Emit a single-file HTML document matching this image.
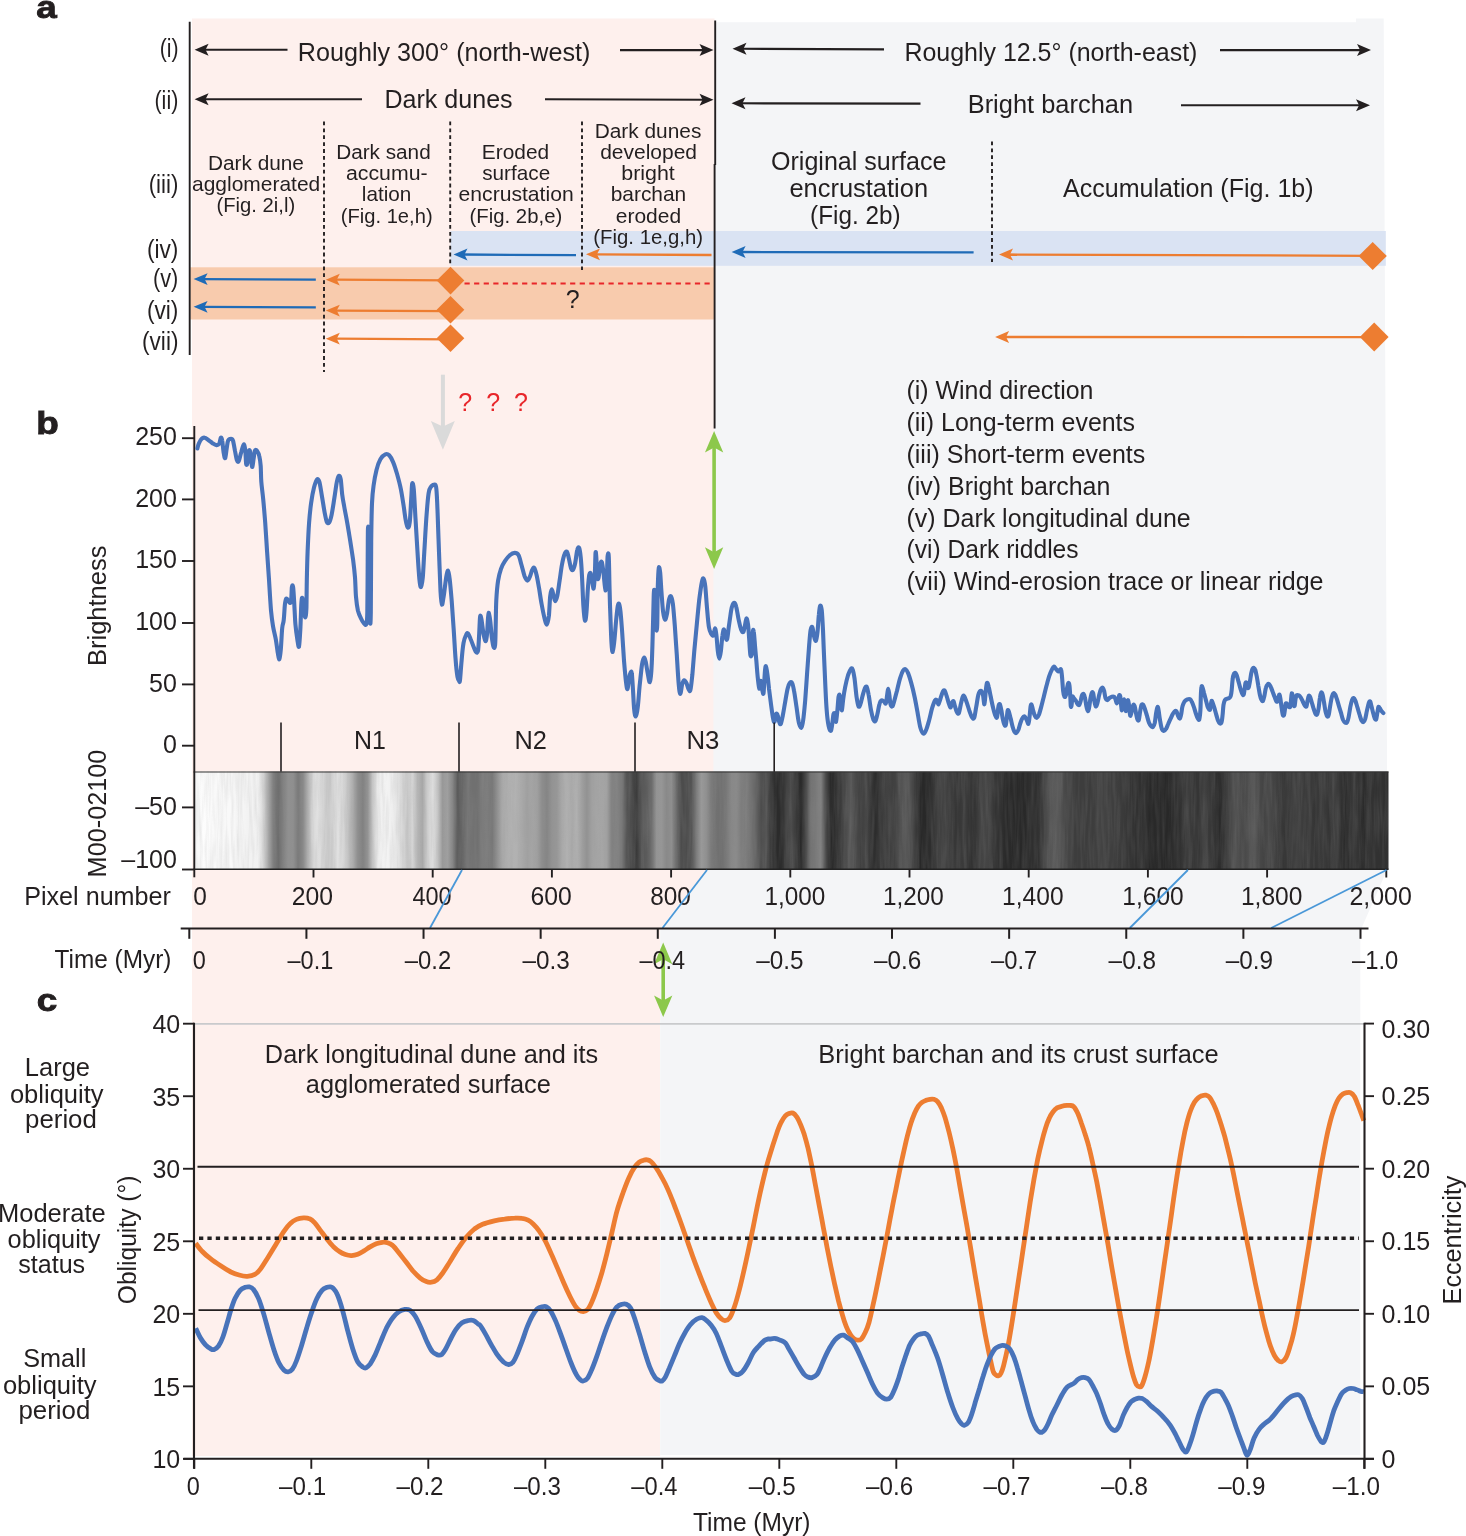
<!DOCTYPE html>
<html><head><meta charset="utf-8"><title>Figure</title>
<style>
html,body{margin:0;padding:0;background:#fff;}
body{width:1466px;height:1536px;overflow:hidden;}
svg{display:block;will-change:transform;}
svg text{font-family:"Liberation Sans",sans-serif;}
</style></head><body>
<svg width="1466" height="1536" viewBox="0 0 1466 1536">
<rect x="0" y="0" width="1466" height="1536" fill="#fff"/>
<path d="M192,18.4 H714.5 V868 L706.5,870 L660.2,928.5 V1456 H192 Z" fill="#fef0ed"/>
<path d="M714.5,22.3 H1356 V18.4 H1383.7 L1387,760 V870 L1362.5,926 L1360.3,932 V1455 H660.2 V928.5 L706.5,870 L713.4,868 V430 H714.5 Z" fill="#f4f5f7"/>
<rect x="450.5" y="231" width="935.3" height="34.8" fill="#dae3f3"/>
<rect x="190.3" y="267.3" width="524.2" height="52.2" fill="#f8cbad"/>
<line x1="189.7" y1="21.8" x2="189.7" y2="355" stroke="#231f20" stroke-width="1.9" />
<line x1="715.2" y1="20.5" x2="715.2" y2="165" stroke="#231f20" stroke-width="1.9" />
<line x1="714.6" y1="164" x2="714.6" y2="428.5" stroke="#231f20" stroke-width="1.9" />
<line x1="324" y1="121.5" x2="324" y2="372" stroke="#231f20" stroke-width="1.9" stroke-dasharray="3.8 3.1"/>
<line x1="450.2" y1="121.5" x2="450.2" y2="266" stroke="#231f20" stroke-width="1.9" stroke-dasharray="3.8 3.1"/>
<line x1="582" y1="121.5" x2="582" y2="270" stroke="#231f20" stroke-width="1.9" stroke-dasharray="3.8 3.1"/>
<line x1="992" y1="141.5" x2="992" y2="262" stroke="#231f20" stroke-width="1.9" stroke-dasharray="3.8 3.1"/>
<text transform="translate(159.65,56.6) scale(0.8500,1)" font-size="25" fill="#231f20">(i)</text>
<text transform="translate(154.44,109.1) scale(0.8611,1)" font-size="25" fill="#231f20">(ii)</text>
<text transform="translate(148.71,192.5) scale(0.8907,1)" font-size="25" fill="#231f20">(iii)</text>
<text transform="translate(146.89,257.8) scale(0.9080,1)" font-size="25" fill="#231f20">(iv)</text>
<text transform="translate(153.03,287.4) scale(0.8686,1)" font-size="25" fill="#231f20">(v)</text>
<text transform="translate(146.89,318.9) scale(0.9080,1)" font-size="25" fill="#231f20">(vi)</text>
<text transform="translate(142.10,350) scale(0.9016,1)" font-size="25" fill="#231f20">(vii)</text>
<line x1="287.5" y1="49.8" x2="203.0" y2="49.8" stroke="#231f20" stroke-width="2.1" />
<path d="M194.6,49.8 L208.6,43.8 L205.51999999999998,49.8 L208.6,55.8 Z" fill="#231f20"/>
<line x1="620" y1="50.1" x2="705.1" y2="50.1" stroke="#231f20" stroke-width="2.1" />
<path d="M713.5,50.1 L699.5,44.1 L702.58,50.1 L699.5,56.1 Z" fill="#231f20"/>
<line x1="362" y1="99.3" x2="203.0" y2="99.3" stroke="#231f20" stroke-width="2.1" />
<path d="M194.6,99.3 L208.6,93.3 L205.51999999999998,99.3 L208.6,105.3 Z" fill="#231f20"/>
<line x1="545" y1="99.2" x2="705.1" y2="99.7" stroke="#231f20" stroke-width="2.1" />
<path d="M713.5,99.7 L699.5,93.7 L702.58,99.7 L699.5,105.7 Z" fill="#231f20"/>
<line x1="884" y1="49.4" x2="740.9" y2="48.8" stroke="#231f20" stroke-width="2.1" />
<path d="M732.5,48.8 L746.5,42.8 L743.42,48.8 L746.5,54.8 Z" fill="#231f20"/>
<line x1="1220" y1="50.1" x2="1362.6" y2="50.1" stroke="#231f20" stroke-width="2.1" />
<path d="M1371,50.1 L1357,44.1 L1360.08,50.1 L1357,56.1 Z" fill="#231f20"/>
<line x1="920.5" y1="103.6" x2="739.9" y2="103.3" stroke="#231f20" stroke-width="2.1" />
<path d="M731.5,103.3 L745.5,97.3 L742.42,103.3 L745.5,109.3 Z" fill="#231f20"/>
<line x1="1181" y1="105.3" x2="1361.6" y2="105.3" stroke="#231f20" stroke-width="2.1" />
<path d="M1370,105.3 L1356,99.3 L1359.08,105.3 L1356,111.3 Z" fill="#231f20"/>
<text transform="translate(297.79,60.6) scale(1.0067,1)" font-size="25" fill="#231f20">Roughly 300° (north-west)</text>
<text transform="translate(384.49,107.5) scale(1.0028,1)" font-size="25" fill="#231f20">Dark dunes</text>
<text transform="translate(904.40,60.6) scale(0.9991,1)" font-size="25" fill="#231f20">Roughly 12.5° (north-east)</text>
<text transform="translate(967.66,113.4) scale(1.0182,1)" font-size="25" fill="#231f20">Bright barchan</text>
<text transform="translate(207.89,169.7) scale(1.0111,1)" font-size="20.6" fill="#231f20">Dark dune</text>
<text transform="translate(192.00,190.8) scale(1.0185,1)" font-size="20.6" fill="#231f20">agglomerated</text>
<text transform="translate(216.52,211.8) scale(0.9817,1)" font-size="20.6" fill="#231f20">(Fig. 2i,l)</text>
<text transform="translate(336.19,159.1) scale(1.0075,1)" font-size="20.6" fill="#231f20">Dark sand</text>
<text transform="translate(346.00,180.2) scale(1.0332,1)" font-size="20.6" fill="#231f20">accumu-</text>
<text transform="translate(361.79,201.4) scale(1.0067,1)" font-size="20.6" fill="#231f20">lation</text>
<text transform="translate(340.72,222.5) scale(0.9794,1)" font-size="20.6" fill="#231f20">(Fig. 1e,h)</text>
<text transform="translate(481.79,159.1) scale(1.0146,1)" font-size="20.6" fill="#231f20">Eroded</text>
<text transform="translate(482.20,180.2) scale(1.0063,1)" font-size="20.6" fill="#231f20">surface</text>
<text transform="translate(458.60,201.4) scale(1.0256,1)" font-size="20.6" fill="#231f20">encrustation</text>
<text transform="translate(469.51,222.5) scale(0.9881,1)" font-size="20.6" fill="#231f20">(Fig. 2b,e)</text>
<text transform="translate(594.69,138.2) scale(1.0133,1)" font-size="20.6" fill="#231f20">Dark dunes</text>
<text transform="translate(600.20,159.1) scale(1.0191,1)" font-size="20.6" fill="#231f20">developed</text>
<text transform="translate(621.26,180.2) scale(1.0395,1)" font-size="20.6" fill="#231f20">bright</text>
<text transform="translate(610.68,201.4) scale(1.0155,1)" font-size="20.6" fill="#231f20">barchan</text>
<text transform="translate(615.80,222.5) scale(1.0193,1)" font-size="20.6" fill="#231f20">eroded</text>
<text transform="translate(593.31,244) scale(0.9884,1)" font-size="20.6" fill="#231f20">(Fig. 1e,g,h)</text>
<text transform="translate(771.00,170.2) scale(1.0025,1)" font-size="25" fill="#231f20">Original surface</text>
<text transform="translate(789.38,196.5) scale(1.0187,1)" font-size="25" fill="#231f20">encrustation</text>
<text transform="translate(810.03,223.5) scale(0.9741,1)" font-size="25" fill="#231f20">(Fig. 2b)</text>
<text transform="translate(1063.10,196.5) scale(1.0017,1)" font-size="25" fill="#231f20">Accumulation (Fig. 1b)</text>
<line x1="576" y1="255.2" x2="461.9" y2="254.5" stroke="#1f6bb7" stroke-width="2.3" />
<path d="M453.5,254.5 L467.5,248.6 L464.42,254.5 L467.5,260.4 Z" fill="#1f6bb7"/>
<line x1="711.5" y1="255" x2="594.4" y2="254.3" stroke="#ed7d31" stroke-width="2.3" />
<path d="M586,254.3 L600,248.4 L596.92,254.3 L600,260.2 Z" fill="#ed7d31"/>
<line x1="973.6" y1="252.4" x2="740.0" y2="252" stroke="#1f6bb7" stroke-width="2.3" />
<path d="M731.6,252 L745.6,246.1 L742.52,252 L745.6,257.9 Z" fill="#1f6bb7"/>
<line x1="1372" y1="255.8" x2="1007.4" y2="254.5" stroke="#ed7d31" stroke-width="2.3" />
<path d="M999,254.5 L1013,248.6 L1009.92,254.5 L1013,260.4 Z" fill="#ed7d31"/>
<line x1="315.8" y1="279.6" x2="202.0" y2="279.1" stroke="#1f6bb7" stroke-width="2.3" />
<path d="M193.6,279.1 L207.6,273.20000000000005 L204.51999999999998,279.1 L207.6,285.0 Z" fill="#1f6bb7"/>
<line x1="450" y1="280.3" x2="334.2" y2="279.7" stroke="#ed7d31" stroke-width="2.3" />
<path d="M325.8,279.7 L339.8,273.8 L336.72,279.7 L339.8,285.59999999999997 Z" fill="#ed7d31"/>
<line x1="315.8" y1="307.4" x2="202.0" y2="306.8" stroke="#1f6bb7" stroke-width="2.3" />
<path d="M193.6,306.8 L207.6,300.90000000000003 L204.51999999999998,306.8 L207.6,312.7 Z" fill="#1f6bb7"/>
<line x1="450" y1="311.2" x2="334.2" y2="310.6" stroke="#ed7d31" stroke-width="2.3" />
<path d="M325.8,310.6 L339.8,304.70000000000005 L336.72,310.6 L339.8,316.5 Z" fill="#ed7d31"/>
<line x1="450" y1="339.3" x2="334.2" y2="338.7" stroke="#ed7d31" stroke-width="2.3" />
<path d="M325.8,338.7 L339.8,332.8 L336.72,338.7 L339.8,344.59999999999997 Z" fill="#ed7d31"/>
<line x1="1372" y1="337.2" x2="1003.5" y2="337" stroke="#ed7d31" stroke-width="2.3" />
<path d="M995.1,337 L1009.1,331.1 L1006.02,337 L1009.1,342.9 Z" fill="#ed7d31"/>
<path d="M436.7,280.6 L450.5,266.8 L464.3,280.6 L450.5,294.40000000000003 Z" fill="#ed7d31"/>
<path d="M436.7,309.7 L450.5,295.9 L464.3,309.7 L450.5,323.5 Z" fill="#ed7d31"/>
<path d="M436.7,338.3 L450.5,324.5 L464.3,338.3 L450.5,352.1 Z" fill="#ed7d31"/>
<path d="M1358.6000000000001,256 L1372.7,241.9 L1386.8,256 L1372.7,270.1 Z" fill="#ed7d31"/>
<path d="M1359.8,337 L1374.2,322.6 L1388.6000000000001,337 L1374.2,351.4 Z" fill="#ed7d31"/>
<line x1="464.5" y1="283.6" x2="711.5" y2="283.6" stroke="#e8262a" stroke-width="2.0" stroke-dasharray="5.2 4.4"/>
<text x="572.8" y="307.8" font-size="25" text-anchor="middle" fill="#231f20" >?</text>
<line x1="442.9" y1="374.7" x2="442.9" y2="428" stroke="#dadada" stroke-width="4.0" />
<path d="M442.9,449.7 L430.9,421.1 L442.9,426.6 L454.8,421.1 Z" fill="#dadada"/>
<text x="465.1" y="410.6" font-size="25" text-anchor="middle" fill="#e8262a" >?</text>
<text x="493.1" y="410.6" font-size="25" text-anchor="middle" fill="#e8262a" >?</text>
<text x="521" y="410.6" font-size="25" text-anchor="middle" fill="#e8262a" >?</text>
<line x1="714.1" y1="446.09" x2="714.1" y2="553.71" stroke="#8cc84b" stroke-width="3.6" />
<path d="M714.1,430.9 L704.95,452.59999999999997 L714.1,447.609 L723.25,452.59999999999997 Z" fill="#8cc84b"/>
<path d="M714.1,568.9 L704.95,547.1999999999999 L714.1,552.191 L723.25,547.1999999999999 Z" fill="#8cc84b"/>
<line x1="663.2" y1="957.79" x2="663.2" y2="1001.9100000000001" stroke="#8cc84b" stroke-width="3.6" />
<path d="M663.2,942.6 L654.0500000000001,964.3000000000001 L663.2,959.309 L672.35,964.3000000000001 Z" fill="#8cc84b"/>
<path d="M663.2,1017.1 L654.0500000000001,995.4 L663.2,1000.3910000000001 L672.35,995.4 Z" fill="#8cc84b"/>
<text transform="translate(906.50,399.2) scale(0.9971,1)" font-size="25" fill="#231f20">(i) Wind direction</text>
<text transform="translate(906.50,431.0) scale(0.9972,1)" font-size="25" fill="#231f20">(ii) Long-term events</text>
<text transform="translate(906.50,462.8) scale(0.9994,1)" font-size="25" fill="#231f20">(iii) Short-term events</text>
<text transform="translate(906.50,494.7) scale(0.9983,1)" font-size="25" fill="#231f20">(iv) Bright barchan</text>
<text transform="translate(906.50,526.5) scale(0.9980,1)" font-size="25" fill="#231f20">(v) Dark longitudinal dune</text>
<text transform="translate(906.52,558.3) scale(0.9837,1)" font-size="25" fill="#231f20">(vi) Dark riddles</text>
<text transform="translate(906.50,590.1) scale(1.0010,1)" font-size="25" fill="#231f20">(vii) Wind-erosion trace or linear ridge</text>
<line x1="194.3" y1="426" x2="194.3" y2="771" stroke="#231f20" stroke-width="1.9" />
<line x1="182" y1="438.2" x2="194.3" y2="438.2" stroke="#231f20" stroke-width="1.9" />
<text x="176.9" y="445.4" font-size="25" text-anchor="end" fill="#231f20" >250</text>
<line x1="182" y1="499.4" x2="194.3" y2="499.4" stroke="#231f20" stroke-width="1.9" />
<text x="176.9" y="506.6" font-size="25" text-anchor="end" fill="#231f20" >200</text>
<line x1="182" y1="561" x2="194.3" y2="561" stroke="#231f20" stroke-width="1.9" />
<text x="176.9" y="568.2" font-size="25" text-anchor="end" fill="#231f20" >150</text>
<line x1="182" y1="623" x2="194.3" y2="623" stroke="#231f20" stroke-width="1.9" />
<text x="176.9" y="630.2" font-size="25" text-anchor="end" fill="#231f20" >100</text>
<line x1="182" y1="684.4" x2="194.3" y2="684.4" stroke="#231f20" stroke-width="1.9" />
<text x="176.9" y="691.6" font-size="25" text-anchor="end" fill="#231f20" >50</text>
<line x1="182" y1="745.7" x2="194.3" y2="745.7" stroke="#231f20" stroke-width="1.9" />
<text x="176.9" y="752.9" font-size="25" text-anchor="end" fill="#231f20" >0</text>
<text transform="translate(106.4,666.04) rotate(-90) scale(1.0206,1)" font-size="25" fill="#231f20">Brightness</text>
<path d="M197.4,448.4C197.6,447.6 198.1,445.2 198.8,443.6C199.5,441.9 200.7,439.6 201.7,438.7C202.7,437.7 203.5,437.4 204.7,437.7C205.8,437.9 207.2,439.3 208.6,440.2C209.9,441.1 211.2,442.3 212.5,443.2C213.8,444.0 215.2,445.0 216.4,445.1C217.5,445.2 218.5,444.8 219.3,443.6C220.0,442.3 220.4,438.2 220.8,437.7C221.3,437.2 221.8,438.2 222.2,440.6C222.7,443.1 223.1,449.4 223.6,452.3C224.1,455.3 224.6,458.9 225.2,458.2C225.7,457.5 226.2,451.4 226.7,448.4C227.2,445.5 227.4,442.2 228.1,440.6C228.8,439.0 230.2,438.7 231.0,438.7C231.8,438.7 232.3,438.7 233.0,440.6C233.6,442.6 234.3,447.1 234.9,450.4C235.6,453.6 236.2,458.4 236.9,460.1C237.5,461.9 238.1,462.4 238.8,461.1C239.5,459.8 240.3,455.1 241.2,452.3C242.0,449.6 243.0,444.9 243.7,444.5C244.4,444.2 244.8,447.1 245.3,450.4C245.7,453.6 245.8,462.1 246.2,464.1C246.6,466.0 247.1,464.4 247.6,462.1C248.1,459.8 248.7,451.7 249.2,450.4C249.7,449.1 250.1,451.5 250.5,454.3C251.0,457.1 251.6,466.3 252.1,467.0C252.6,467.6 253.2,461.0 253.7,458.2C254.1,455.4 254.4,451.5 255.0,450.4C255.6,449.2 256.7,450.4 257.4,451.4C258.1,452.3 258.8,453.8 259.3,456.2C259.9,458.7 260.4,461.8 260.7,466.0C261.0,470.2 260.9,476.1 261.3,481.6C261.7,487.2 262.6,492.4 263.2,499.2C263.9,506.0 264.5,513.9 265.2,522.6C265.8,531.4 266.5,542.2 267.1,551.9C267.8,561.7 268.4,571.5 269.1,581.2C269.7,591.0 270.4,603.0 271.0,610.5C271.7,618.0 272.2,621.2 273.0,626.1C273.8,631.0 275.1,635.2 275.9,639.8C276.7,644.4 277.3,650.2 277.9,653.5C278.5,656.7 279.0,660.0 279.4,659.3C279.9,658.7 280.3,654.8 280.8,649.6C281.3,644.4 281.7,633.0 282.2,628.1C282.7,623.2 283.3,624.2 283.7,620.3C284.2,616.4 284.5,608.2 284.9,604.6C285.3,601.1 285.6,599.6 286.1,598.8C286.5,598.0 287.1,599.1 287.6,599.8C288.2,600.4 289.0,602.5 289.6,602.7C290.2,602.9 290.8,603.4 291.1,600.8C291.5,598.1 291.6,589.4 291.9,587.1C292.3,584.8 292.7,584.8 293.1,587.1C293.5,589.4 293.7,594.6 294.1,600.8C294.5,606.9 294.9,617.7 295.4,624.2C296.0,630.7 296.8,636.1 297.4,639.8C298.0,643.5 298.5,648.3 299.0,646.6C299.4,645.0 299.9,637.0 300.3,630.0C300.7,623.0 301.0,610.0 301.3,604.6C301.6,599.3 301.9,597.2 302.3,597.8C302.7,598.5 303.2,605.3 303.6,608.6C304.1,611.8 304.8,617.4 305.2,617.4C305.7,617.4 306.1,614.6 306.4,608.6C306.6,602.5 306.6,590.7 306.8,581.2C307.0,571.8 307.2,561.7 307.6,551.9C308.0,542.2 308.5,530.8 309.1,522.6C309.7,514.5 310.3,509.0 311.1,503.1C311.9,497.3 313.0,491.4 314.0,487.5C315.0,483.6 316.1,480.7 316.9,479.7C317.8,478.7 318.5,479.0 319.3,481.6C320.1,484.2 320.9,490.1 321.8,495.3C322.7,500.5 323.9,508.5 324.7,512.9C325.6,517.3 326.0,520.0 326.7,521.7C327.4,523.3 328.2,523.8 329.0,522.6C329.9,521.5 330.7,519.1 331.6,514.8C332.5,510.6 333.6,502.8 334.5,497.2C335.4,491.7 336.1,485.2 336.9,481.6C337.6,478.1 338.2,476.1 338.8,475.8C339.4,475.4 340.2,476.4 340.8,479.7C341.3,482.9 341.7,490.7 342.3,495.3C342.9,499.9 343.5,502.5 344.3,507.0C345.1,511.6 346.2,517.1 347.2,522.6C348.2,528.2 349.1,534.0 350.1,540.2C351.1,546.4 352.2,553.6 353.1,559.7C353.9,565.9 354.5,571.1 355.0,577.3C355.5,583.5 355.5,591.3 356.0,596.8C356.5,602.4 357.1,606.9 357.9,610.5C358.8,614.1 359.9,616.2 360.9,618.3C361.8,620.4 362.9,622.2 363.8,623.2C364.7,624.2 365.7,626.0 366.3,624.2C366.9,622.4 367.1,622.9 367.3,612.5C367.5,602.0 367.6,576.0 367.7,561.7C367.8,547.4 367.8,526.5 368.1,526.5C368.3,526.5 368.9,546.4 369.3,561.7C369.6,577.0 369.8,609.9 370.0,618.3C370.3,626.8 370.6,625.2 370.8,612.5C371.0,599.8 371.0,560.4 371.2,542.2C371.4,523.9 371.6,512.5 372.0,503.1C372.4,493.7 372.8,491.1 373.6,485.5C374.3,480.0 375.4,474.3 376.5,469.9C377.6,465.5 378.9,461.8 380.4,459.2C381.9,456.6 383.8,454.9 385.3,454.3C386.7,453.6 387.9,454.0 389.2,455.3C390.5,456.6 391.8,459.0 393.1,462.1C394.4,465.2 395.7,469.3 397.0,473.8C398.3,478.4 399.8,483.9 400.9,489.4C402.0,495.0 403.0,501.8 403.8,507.0C404.6,512.2 405.1,517.3 405.8,520.7C406.4,524.1 407.1,527.2 407.7,527.5C408.4,527.8 409.1,527.4 409.7,522.6C410.3,517.9 410.8,505.7 411.2,499.2C411.7,492.7 411.8,485.2 412.2,483.6C412.6,482.0 413.2,483.6 413.8,489.4C414.3,495.3 414.9,508.3 415.5,518.7C416.2,529.1 416.8,541.8 417.5,551.9C418.1,562.0 418.9,573.4 419.4,579.3C420.0,585.1 420.5,587.4 421.0,587.1C421.6,586.8 422.2,583.2 422.8,577.3C423.3,571.5 423.7,561.7 424.3,551.9C424.9,542.2 425.6,528.5 426.3,518.7C427.0,509.0 427.8,498.7 428.6,493.4C429.4,488.0 430.1,488.0 431.2,486.5C432.2,485.0 434.2,484.1 435.1,484.6C435.9,485.0 436.0,484.7 436.4,489.4C436.9,494.2 437.2,502.5 437.6,512.9C438.0,523.3 438.5,538.9 439.0,551.9C439.5,564.9 440.1,582.2 440.5,591.0C441.0,599.8 441.3,604.0 441.9,604.6C442.5,605.3 443.1,599.4 443.9,594.9C444.6,590.3 445.5,581.4 446.2,577.3C446.9,573.2 447.6,570.2 448.1,570.5C448.7,570.8 449.1,574.2 449.7,579.3C450.3,584.3 451.0,592.6 451.7,600.8C452.3,608.9 453.0,618.3 453.6,628.1C454.3,637.9 454.9,651.2 455.6,659.3C456.2,667.5 456.9,673.3 457.5,676.9C458.1,680.5 458.7,680.3 459.1,680.8C459.5,681.4 459.6,683.5 460.0,680.2C460.4,676.8 461.0,666.8 461.6,660.7C462.1,654.5 462.8,647.3 463.5,643.1C464.2,638.9 465.1,636.9 465.9,635.3C466.6,633.6 467.0,632.7 467.8,633.3C468.6,634.0 469.8,636.9 470.7,639.2C471.7,641.5 472.8,644.9 473.7,647.0C474.5,649.1 475.3,651.2 476.0,651.9C476.7,652.5 477.4,653.7 478.0,650.9C478.5,648.1 478.8,641.0 479.1,635.3C479.5,629.6 479.7,619.3 480.1,616.7C480.5,614.1 480.9,616.9 481.5,619.6C482.0,622.4 482.8,629.7 483.4,633.3C484.1,636.9 484.8,640.8 485.4,641.1C486.0,641.5 486.5,638.9 486.9,635.3C487.4,631.7 487.6,623.4 487.9,619.6C488.2,615.9 488.5,612.5 488.9,612.8C489.3,613.1 489.8,617.5 490.3,621.6C490.8,625.7 491.3,633.0 491.8,637.2C492.4,641.5 493.0,645.7 493.6,647.0C494.1,648.3 494.8,648.6 495.1,645.0C495.5,641.5 495.5,633.0 495.7,625.5C495.9,618.0 495.9,607.6 496.3,600.1C496.7,592.6 497.3,585.8 498.1,580.6C498.9,575.4 499.9,572.1 501.0,568.9C502.1,565.6 503.4,563.3 504.9,561.1C506.4,558.8 508.2,556.6 509.8,555.2C511.4,553.8 513.2,552.9 514.7,552.9C516.1,552.9 517.4,553.2 518.6,555.2C519.7,557.2 520.5,561.6 521.5,565.0C522.5,568.4 523.5,573.1 524.4,575.7C525.4,578.3 526.5,580.4 527.4,580.6C528.3,580.8 529.1,578.5 529.9,576.7C530.7,574.9 531.5,571.3 532.2,569.9C533.0,568.4 533.5,567.1 534.2,567.9C534.9,568.7 535.7,571.3 536.5,574.7C537.4,578.2 538.2,583.5 539.1,588.4C539.9,593.3 540.7,599.1 541.6,604.0C542.5,608.9 543.5,614.3 544.4,617.7C545.2,621.1 546.2,624.9 546.9,624.5C547.6,624.2 548.3,620.5 548.9,615.8C549.4,611.0 549.7,600.6 550.2,596.2C550.7,591.8 551.2,589.4 551.8,589.4C552.4,589.4 553.1,594.3 553.7,596.2C554.3,598.2 554.7,601.1 555.3,601.1C555.9,601.1 556.5,599.6 557.2,596.2C558.0,592.8 558.8,585.8 559.6,580.6C560.4,575.4 561.1,569.4 561.9,565.0C562.7,560.6 563.6,556.5 564.5,554.2C565.3,552.0 566.3,550.9 567.0,551.7C567.8,552.5 568.3,556.4 569.0,559.1C569.6,561.8 570.3,566.1 570.9,567.9C571.6,569.7 572.2,570.7 572.9,569.9C573.6,569.0 574.5,566.3 575.2,563.0C575.9,559.8 576.5,552.9 577.2,550.3C577.8,547.8 578.5,546.7 579.1,547.8C579.7,548.9 580.2,552.3 580.7,557.2C581.2,562.0 581.6,568.6 582.0,576.7C582.5,584.8 582.9,598.7 583.4,606.0C583.9,613.3 584.5,619.7 585.0,620.6C585.5,621.6 586.1,617.2 586.5,611.8C587.0,606.5 587.4,594.6 587.9,588.4C588.4,582.2 588.8,577.2 589.3,574.7C589.8,572.3 590.3,572.5 590.8,573.8C591.4,575.1 591.9,580.1 592.4,582.5C592.9,585.0 593.2,589.4 593.6,588.4C594.0,587.4 594.4,582.5 594.7,576.7C595.1,570.8 595.3,556.5 595.5,553.3C595.8,550.0 596.0,553.3 596.3,557.2C596.6,561.1 596.9,573.3 597.3,576.7C597.7,580.1 598.2,579.6 598.6,577.7C599.1,575.7 599.7,567.6 600.2,565.0C600.7,562.4 601.2,560.7 601.8,562.0C602.3,563.4 602.9,568.1 603.5,572.8C604.1,577.5 604.9,589.7 605.5,590.4C606.0,591.0 606.5,582.4 606.9,576.7C607.2,571.0 607.3,559.4 607.6,556.2C608.0,552.9 608.5,551.5 608.8,557.2C609.1,562.9 609.3,580.6 609.6,590.4C609.8,600.1 610.0,607.0 610.4,615.8C610.7,624.5 611.1,637.1 611.5,643.1C611.9,649.1 612.2,652.2 612.7,651.9C613.2,651.5 613.7,646.5 614.3,641.1C614.9,635.8 615.6,625.5 616.2,619.6C616.8,613.8 617.3,608.6 617.8,606.0C618.3,603.4 618.7,603.1 619.1,604.0C619.6,605.0 620.0,607.3 620.5,611.8C621.0,616.4 621.5,623.2 622.1,631.4C622.7,639.5 623.4,652.2 624.0,660.7C624.7,669.1 625.4,677.4 626.0,682.1C626.6,686.9 627.0,689.6 627.5,689.0C628.1,688.3 628.6,681.0 629.1,678.2C629.6,675.5 630.2,673.2 630.7,672.4C631.1,671.6 631.5,670.4 631.8,673.4C632.2,676.3 632.6,683.9 633.0,690.0C633.4,696.0 633.7,705.1 634.2,709.5C634.6,713.9 635.2,716.6 635.8,716.3C636.3,716.0 637.1,712.6 637.7,707.5C638.4,702.5 638.9,693.2 639.6,686.0C640.4,678.9 641.3,669.3 642.0,664.6C642.7,659.9 643.3,658.1 644.0,657.7C644.6,657.4 645.2,659.8 645.9,662.6C646.5,665.4 647.2,671.1 647.9,674.3C648.5,677.6 649.2,682.8 649.8,682.1C650.4,681.5 650.9,678.2 651.4,670.4C651.9,662.6 652.4,647.6 652.7,635.3C653.1,622.9 653.4,603.7 653.7,596.2C654.0,588.7 654.2,589.4 654.5,590.4C654.8,591.3 655.0,595.9 655.3,602.1C655.6,608.3 655.9,623.6 656.2,627.5C656.6,631.4 657.0,632.3 657.2,625.5C657.5,618.7 657.5,596.1 657.8,586.5C658.1,576.9 658.4,570.2 658.8,567.9C659.2,565.6 659.7,568.7 660.2,572.8C660.6,576.9 661.0,585.8 661.5,592.3C662.0,598.8 662.5,607.3 663.1,611.8C663.7,616.4 664.4,619.3 665.0,619.6C665.7,620.0 666.3,617.0 667.0,613.8C667.6,610.5 668.3,603.0 668.9,600.1C669.6,597.2 670.2,595.6 670.9,596.2C671.6,596.9 672.2,599.1 672.9,604.0C673.5,608.9 674.1,617.0 674.8,625.5C675.4,634.0 676.1,645.0 676.8,654.8C677.4,664.6 678.1,677.6 678.7,684.1C679.3,690.6 679.7,693.9 680.3,693.9C680.9,693.9 681.6,686.4 682.2,684.1C682.9,681.8 683.5,680.4 684.2,680.2C684.9,680.0 685.8,681.7 686.5,683.1C687.2,684.6 687.8,687.8 688.5,689.0C689.1,690.1 689.8,692.4 690.4,690.0C691.1,687.5 691.7,680.8 692.4,674.3C693.0,667.8 693.6,659.0 694.3,650.9C695.0,642.8 695.9,634.0 696.7,625.5C697.5,617.0 698.4,607.3 699.2,600.1C700.1,593.0 701.0,586.1 701.8,582.5C702.5,579.0 702.9,578.0 703.5,578.6C704.1,579.3 704.7,581.6 705.3,586.5C705.8,591.3 706.4,601.1 707.0,607.9C707.6,614.8 708.2,623.1 709.0,627.5C709.7,631.9 710.8,633.0 711.5,634.3C712.3,635.6 712.9,636.2 713.5,635.3C714.1,634.3 714.5,628.4 715.0,628.4C715.5,628.4 715.9,631.5 716.4,635.3C716.9,639.0 717.3,647.0 717.8,650.9C718.2,654.8 718.8,658.7 719.3,658.7C719.8,658.7 720.4,654.8 720.9,650.9C721.4,647.0 721.9,638.9 722.5,635.3C723.0,631.7 723.5,629.1 724.0,629.4C724.5,629.7 725.0,635.6 725.6,637.2C726.1,638.9 726.6,640.8 727.1,639.2C727.7,637.6 728.2,630.9 728.7,627.5C729.2,624.0 729.5,621.9 730.0,618.4C730.5,614.9 731.2,609.3 732.0,606.7C732.7,604.1 733.6,602.8 734.3,602.8C735.0,602.8 735.5,603.8 736.2,606.7C737.0,609.6 737.9,616.5 738.8,620.4C739.6,624.3 740.6,628.2 741.3,630.1C742.1,632.1 742.7,632.7 743.3,632.1C743.9,631.4 744.3,628.5 744.8,626.2C745.4,623.9 745.9,618.7 746.4,618.4C746.9,618.1 747.5,621.0 748.0,624.3C748.4,627.5 748.8,632.9 749.1,637.9C749.5,643.0 749.9,651.9 750.3,654.5C750.8,657.1 751.4,657.3 751.9,653.6C752.3,649.8 752.5,635.7 752.9,632.1C753.2,628.5 753.5,629.8 753.8,632.1C754.2,634.4 754.6,640.9 755.0,645.8C755.4,650.6 755.9,656.2 756.4,661.4C756.8,666.6 757.2,672.4 757.7,677.0C758.2,681.5 758.8,688.1 759.3,688.7C759.8,689.4 760.3,680.6 760.9,680.9C761.4,681.2 762.0,688.7 762.4,690.7C762.9,692.6 763.2,695.5 763.6,692.6C764.0,689.7 764.4,677.5 764.8,673.1C765.1,668.7 765.5,665.9 765.9,666.2C766.4,666.6 767.0,671.3 767.5,675.0C768.0,678.8 768.5,683.8 769.0,688.7C769.6,693.6 770.4,699.4 771.0,704.3C771.7,709.2 772.4,715.1 773.0,718.0C773.5,720.9 774.0,722.6 774.5,721.9C775.0,721.2 775.6,715.2 776.1,714.1C776.6,713.0 777.1,713.8 777.6,715.1C778.2,716.4 778.7,720.4 779.2,721.9C779.7,723.4 780.2,724.8 780.8,723.9C781.4,722.9 782.0,719.6 782.7,716.0C783.4,712.5 784.3,706.9 785.1,702.4C785.9,697.8 786.8,692.0 787.6,688.7C788.4,685.5 789.0,683.8 789.8,682.9C790.5,681.9 791.4,681.5 792.1,682.9C792.8,684.2 793.3,686.8 794.0,690.7C794.8,694.6 795.6,701.1 796.4,706.3C797.2,711.5 797.9,718.3 798.7,721.9C799.6,725.5 800.5,728.1 801.3,727.8C802.0,727.4 802.6,724.5 803.2,720.0C803.9,715.4 804.5,708.2 805.2,700.4C805.8,692.6 806.5,682.2 807.1,673.1C807.8,664.0 808.5,652.9 809.1,645.8C809.7,638.6 810.1,633.2 810.6,630.1C811.2,627.0 811.9,626.2 812.4,627.2C813.0,628.2 813.4,633.7 814.0,636.0C814.6,638.3 815.3,641.5 815.9,640.9C816.5,640.2 817.0,636.5 817.5,632.1C818.0,627.7 818.4,618.9 818.9,614.5C819.3,610.1 819.7,606.4 820.2,605.7C820.7,605.1 821.3,606.5 821.8,610.6C822.2,614.7 822.6,622.3 823.0,630.1C823.3,637.9 823.7,648.3 824.1,657.5C824.5,666.6 824.9,676.0 825.3,684.8C825.7,693.6 826.1,703.4 826.7,710.2C827.2,717.0 827.9,722.4 828.6,725.8C829.3,729.2 830.3,731.3 831.0,730.7C831.6,730.0 832.1,724.7 832.5,721.9C832.9,719.1 833.1,715.4 833.5,714.1C833.9,712.8 834.6,712.8 835.1,714.1C835.5,715.4 835.6,722.5 836.0,721.9C836.4,721.2 837.0,714.4 837.4,710.2C837.8,706.0 838.2,699.0 838.6,696.5C839.0,694.1 839.3,694.2 839.7,695.5C840.1,696.8 840.6,701.9 840.9,704.3C841.3,706.8 841.5,711.2 841.9,710.2C842.3,709.2 842.7,702.4 843.3,698.5C843.8,694.6 844.4,690.7 845.2,686.8C846.0,682.8 847.2,678.0 848.1,675.0C849.1,672.1 849.9,670.2 850.7,669.2C851.4,668.2 852.0,667.6 852.6,669.2C853.3,670.8 853.9,674.4 854.6,678.9C855.2,683.5 855.9,692.0 856.5,696.5C857.2,701.1 857.8,705.0 858.5,706.3C859.1,707.6 859.8,706.0 860.4,704.3C861.1,702.7 861.7,699.1 862.4,696.5C863.1,693.9 864.0,690.3 864.7,688.7C865.5,687.1 866.0,685.8 866.7,686.8C867.3,687.7 867.9,690.7 868.6,694.6C869.4,698.5 870.2,706.0 871.0,710.2C871.8,714.4 872.8,718.2 873.5,720.0C874.3,721.7 874.8,721.9 875.5,720.9C876.1,720.0 876.8,716.9 877.4,714.1C878.1,711.3 878.7,706.6 879.4,704.3C880.0,702.1 880.6,700.9 881.3,700.4C882.1,699.9 883.1,700.9 883.9,701.4C884.6,701.9 885.3,704.5 885.8,703.4C886.4,702.2 886.8,697.0 887.2,694.6C887.6,692.1 887.8,688.7 888.2,688.7C888.5,688.7 888.9,692.0 889.3,694.6C889.7,697.2 890.0,702.4 890.5,704.3C891.0,706.3 891.8,706.9 892.5,706.3C893.1,705.6 893.7,703.0 894.4,700.4C895.2,697.8 896.0,694.2 897.0,690.7C897.9,687.1 898.9,682.2 899.9,678.9C900.9,675.7 901.9,672.8 902.8,671.1C903.7,669.5 904.5,668.9 905.4,669.2C906.2,669.5 907.1,670.8 908.1,673.1C909.1,675.4 910.1,678.9 911.2,682.9C912.3,686.8 913.5,691.6 914.5,696.5C915.6,701.4 916.5,706.9 917.5,712.1C918.4,717.3 919.4,724.2 920.4,727.8C921.4,731.3 922.3,733.3 923.3,733.6C924.3,733.9 925.3,732.0 926.2,729.7C927.2,727.4 928.2,723.5 929.2,720.0C930.2,716.4 931.1,711.5 932.1,708.2C933.1,705.0 934.2,701.7 935.0,700.4C935.9,699.1 936.4,699.8 937.0,700.4C937.6,701.1 938.0,704.7 938.5,704.3C939.1,704.0 939.8,700.6 940.5,698.5C941.2,696.4 942.1,692.9 942.9,691.6C943.6,690.3 944.1,689.8 944.8,690.7C945.4,691.5 946.0,694.2 946.8,696.5C947.5,698.8 948.4,702.5 949.1,704.3C949.8,706.1 950.1,707.6 950.7,707.3C951.2,706.9 951.7,703.4 952.2,702.4C952.7,701.4 953.1,700.8 953.6,701.4C954.0,702.0 954.4,704.5 955.0,706.3C955.5,708.1 956.3,711.0 956.9,712.1C957.6,713.3 958.2,714.4 958.9,713.1C959.5,711.8 960.2,707.1 960.8,704.3C961.5,701.6 962.2,697.8 962.8,696.5C963.4,695.2 963.7,695.5 964.3,696.5C965.0,697.5 965.9,700.1 966.7,702.4C967.5,704.7 968.4,707.8 969.2,710.2C970.1,712.6 970.9,715.7 971.8,717.0C972.6,718.3 973.4,719.5 974.1,718.0C974.8,716.5 975.3,712.1 976.0,708.2C976.8,704.3 977.6,697.5 978.4,694.6C979.2,691.6 980.2,690.7 980.9,690.7C981.7,690.7 982.3,692.3 982.9,694.6C983.5,696.8 984.0,705.0 984.4,704.3C984.9,703.7 985.4,694.2 985.8,690.7C986.2,687.1 986.5,683.5 987.0,682.9C987.5,682.2 988.1,684.5 988.7,686.8C989.4,689.0 989.9,692.9 990.7,696.5C991.4,700.1 992.4,705.0 993.2,708.2C994.0,711.5 994.9,714.6 995.6,716.0C996.2,717.5 996.7,718.6 997.1,717.0C997.6,715.4 998.0,708.4 998.5,706.3C999.0,704.2 999.4,703.6 999.9,704.3C1000.3,705.0 1000.9,708.0 1001.4,710.4C1001.8,712.8 1002.3,716.3 1002.7,718.6C1003.2,720.9 1003.6,722.9 1004.1,724.0C1004.6,725.2 1005.3,726.5 1005.7,725.4C1006.2,724.3 1006.5,719.7 1006.8,717.2C1007.2,714.7 1007.3,711.3 1007.7,710.4C1008.0,709.5 1008.4,710.4 1008.9,711.7C1009.4,713.1 1010.0,716.1 1010.7,718.6C1011.3,721.1 1012.0,724.6 1012.6,726.8C1013.2,728.9 1013.7,730.5 1014.4,731.6C1015.0,732.6 1015.7,733.3 1016.4,732.9C1017.1,732.6 1017.8,731.2 1018.5,729.5C1019.1,727.8 1019.8,724.6 1020.5,722.7C1021.2,720.7 1021.9,718.9 1022.6,717.9C1023.2,716.9 1023.9,716.2 1024.6,716.5C1025.3,716.9 1026.0,718.7 1026.7,720.0C1027.3,721.2 1028.0,724.5 1028.4,724.0C1028.9,723.6 1029.2,720.2 1029.5,717.2C1029.9,714.2 1030.3,708.3 1030.6,706.3C1031.0,704.2 1031.3,704.2 1031.7,704.9C1032.1,705.6 1032.6,708.6 1033.1,710.4C1033.6,712.2 1034.2,714.6 1034.9,715.8C1035.5,717.1 1036.2,718.1 1036.9,717.9C1037.6,717.7 1038.3,716.2 1039.0,714.5C1039.6,712.8 1040.2,710.6 1041.0,707.6C1041.8,704.7 1042.8,700.4 1043.8,696.7C1044.7,693.1 1045.6,689.2 1046.5,685.8C1047.4,682.4 1048.3,678.9 1049.2,676.2C1050.1,673.5 1051.2,671.0 1052.0,669.4C1052.7,667.8 1053.4,666.7 1054.0,666.6C1054.6,666.5 1055.2,668.0 1055.8,668.7C1056.3,669.4 1056.9,670.3 1057.4,670.7C1057.9,671.2 1058.3,671.6 1058.8,671.4C1059.2,671.2 1059.7,669.6 1060.2,669.4C1060.6,669.1 1060.9,668.5 1061.2,670.0C1061.6,671.6 1061.9,675.4 1062.2,678.9C1062.5,682.5 1062.8,688.3 1063.2,691.2C1063.5,694.2 1064.1,696.0 1064.5,696.7C1065.0,697.4 1065.5,696.7 1065.9,695.3C1066.3,694.0 1066.6,690.6 1067.0,688.5C1067.4,686.4 1067.9,683.5 1068.3,683.0C1068.8,682.6 1069.1,683.5 1069.5,685.8C1069.8,688.0 1070.0,693.3 1070.3,696.7C1070.5,700.1 1070.6,704.9 1070.8,706.3C1071.0,707.6 1071.4,706.5 1071.6,704.9C1071.9,703.3 1072.1,697.9 1072.5,696.7C1072.8,695.6 1073.2,697.4 1073.8,698.1C1074.4,698.8 1075.2,699.8 1075.9,700.8C1076.5,701.8 1077.1,703.5 1077.7,704.2C1078.2,704.9 1078.8,705.5 1079.3,704.9C1079.8,704.3 1080.2,702.4 1080.7,700.8C1081.1,699.2 1081.5,696.5 1082.0,695.3C1082.5,694.2 1083.2,693.5 1083.7,694.0C1084.2,694.4 1084.6,696.0 1085.0,698.1C1085.5,700.1 1085.9,704.1 1086.4,706.3C1086.9,708.4 1087.3,710.8 1087.8,711.1C1088.2,711.3 1088.7,709.8 1089.1,707.6C1089.6,705.5 1090.0,700.6 1090.5,698.1C1091.0,695.6 1091.4,693.4 1091.9,692.6C1092.3,691.8 1092.8,691.9 1093.2,693.3C1093.6,694.7 1093.9,698.6 1094.3,700.8C1094.7,703.0 1095.2,705.8 1095.7,706.3C1096.2,706.7 1096.8,705.4 1097.3,703.5C1097.9,701.7 1098.5,697.7 1099.1,695.3C1099.7,692.9 1100.3,690.4 1100.9,689.2C1101.5,687.9 1102.3,687.5 1102.8,687.8C1103.3,688.2 1103.7,689.5 1104.2,691.2C1104.6,692.9 1105.0,696.6 1105.5,698.1C1106.1,699.6 1106.7,700.1 1107.3,700.1C1107.9,700.1 1108.6,698.6 1109.4,698.1C1110.1,697.5 1111.0,696.9 1111.8,696.7C1112.6,696.5 1113.5,696.3 1114.2,696.7C1114.8,697.2 1115.1,698.3 1115.5,699.4C1116.0,700.6 1116.4,703.5 1116.9,703.5C1117.3,703.5 1117.9,700.8 1118.2,699.4C1118.6,698.1 1118.9,695.8 1119.2,695.3C1119.6,694.9 1120.0,695.1 1120.3,696.7C1120.6,698.3 1120.8,702.6 1121.1,704.9C1121.4,707.2 1121.6,710.6 1121.9,710.4C1122.3,710.2 1122.7,705.4 1123.0,703.5C1123.4,701.7 1123.8,699.4 1124.1,699.4C1124.5,699.4 1124.7,701.6 1125.0,703.5C1125.2,705.5 1125.5,710.8 1125.8,711.1C1126.1,711.3 1126.5,706.7 1126.9,704.9C1127.2,703.1 1127.5,700.3 1127.8,700.1C1128.1,699.9 1128.5,701.6 1128.8,703.5C1129.1,705.5 1129.3,709.7 1129.6,711.7C1129.9,713.8 1130.2,716.1 1130.5,715.8C1130.9,715.6 1131.5,712.2 1131.9,710.4C1132.4,708.6 1132.8,705.6 1133.3,704.9C1133.7,704.2 1134.2,704.9 1134.7,706.3C1135.1,707.6 1135.6,710.9 1136.0,713.1C1136.5,715.3 1136.9,718.1 1137.4,719.3C1137.8,720.4 1138.3,721.2 1138.8,720.0C1139.2,718.7 1139.7,714.2 1140.1,711.7C1140.6,709.2 1141.0,706.0 1141.5,704.9C1142.0,703.8 1142.7,704.2 1143.3,704.9C1143.8,705.6 1144.3,707.2 1144.9,709.0C1145.5,710.8 1146.3,713.6 1147.0,715.8C1147.6,718.1 1148.3,721.0 1149.0,722.7C1149.7,724.4 1150.4,725.4 1151.1,726.1C1151.7,726.8 1152.5,727.4 1153.1,726.8C1153.7,726.2 1154.2,725.0 1154.8,722.7C1155.3,720.4 1155.7,715.7 1156.1,713.1C1156.6,710.5 1157.1,707.4 1157.5,707.0C1157.9,706.5 1158.2,708.2 1158.6,710.4C1159.0,712.5 1159.4,717.0 1160.0,720.0C1160.5,722.9 1161.0,726.3 1161.6,728.1C1162.2,730.0 1163.0,730.8 1163.8,730.9C1164.5,731.0 1165.4,730.0 1166.1,728.8C1166.8,727.7 1167.4,725.8 1168.2,724.0C1168.9,722.3 1169.8,720.3 1170.6,718.6C1171.4,716.9 1172.2,715.0 1172.9,713.8C1173.7,712.5 1174.4,711.4 1175.0,711.1C1175.6,710.7 1176.1,710.9 1176.6,711.7C1177.1,712.5 1177.5,714.7 1178.0,715.8C1178.5,717.0 1179.2,718.8 1179.8,718.6C1180.3,718.4 1180.7,716.5 1181.1,714.5C1181.6,712.4 1181.9,708.4 1182.5,706.3C1183.1,704.1 1183.8,702.6 1184.5,701.5C1185.3,700.4 1186.4,699.8 1187.3,699.4C1188.2,699.1 1189.2,698.7 1190.0,699.2C1190.8,699.6 1191.4,700.8 1192.0,702.2C1192.7,703.6 1193.4,705.6 1194.1,707.6C1194.8,709.7 1195.5,712.7 1196.2,714.5C1196.8,716.3 1197.4,717.8 1197.9,718.6C1198.5,719.4 1198.9,720.6 1199.3,719.3C1199.7,717.9 1200.1,714.6 1200.4,710.4C1200.7,706.2 1200.7,698.0 1200.9,694.0C1201.1,690.0 1201.3,687.5 1201.6,686.5C1201.9,685.4 1202.2,686.8 1202.6,687.8C1203.0,688.8 1203.4,690.7 1203.9,692.6C1204.5,694.5 1205.1,697.2 1205.7,699.4C1206.3,701.7 1207.0,704.7 1207.5,706.3C1208.0,707.9 1208.5,708.4 1208.9,709.0C1209.3,709.6 1209.6,710.4 1210.0,709.7C1210.3,709.0 1210.5,706.4 1210.8,704.9C1211.1,703.4 1211.3,701.2 1211.6,700.8C1211.9,700.5 1212.2,701.7 1212.7,702.9C1213.1,704.0 1213.7,705.7 1214.3,707.6C1214.9,709.6 1215.6,712.3 1216.2,714.5C1216.9,716.6 1217.4,719.1 1218.0,720.6C1218.6,722.1 1219.2,723.0 1219.8,723.4C1220.4,723.7 1221.0,723.9 1221.4,722.7C1221.9,721.4 1222.2,718.8 1222.5,715.8C1222.9,712.9 1223.1,707.5 1223.5,704.9C1223.9,702.3 1224.3,701.1 1224.9,700.1C1225.4,699.1 1226.2,699.1 1226.9,698.8C1227.6,698.4 1228.3,698.5 1229.0,698.1C1229.6,697.6 1230.3,697.4 1230.7,696.0C1231.2,694.7 1231.4,692.7 1231.7,689.9C1232.0,687.0 1232.3,681.5 1232.7,678.9C1233.0,676.3 1233.3,675.2 1233.8,674.1C1234.2,673.1 1234.9,672.6 1235.4,672.8C1235.9,673.0 1236.2,674.0 1236.8,675.5C1237.3,677.0 1237.9,679.4 1238.5,681.7C1239.2,683.9 1239.9,687.1 1240.6,689.2C1241.2,691.2 1241.8,693.1 1242.4,694.0C1242.9,694.9 1243.3,695.6 1243.7,694.6C1244.1,693.7 1244.4,690.4 1244.7,688.5C1245.0,686.6 1245.2,683.9 1245.5,683.0C1245.8,682.1 1246.2,682.2 1246.6,683.0C1247.0,683.8 1247.3,687.1 1247.7,687.8C1248.1,688.5 1248.4,688.2 1248.8,687.1C1249.1,686.1 1249.5,683.9 1249.9,681.7C1250.3,679.4 1250.8,675.6 1251.2,673.5C1251.7,671.3 1252.2,669.6 1252.6,668.7C1253.1,667.8 1253.5,667.8 1254.0,668.0C1254.4,668.2 1254.9,668.7 1255.3,670.0C1255.8,671.4 1256.2,673.6 1256.7,676.2C1257.2,678.8 1257.8,682.6 1258.3,685.8C1258.9,689.0 1259.4,692.9 1260.0,695.3C1260.5,697.7 1261.1,699.2 1261.6,700.1C1262.1,701.0 1262.5,701.6 1263.0,700.8C1263.5,700.0 1264.0,697.5 1264.5,695.3C1265.0,693.2 1265.3,689.6 1265.9,687.8C1266.4,686.0 1267.1,685.0 1267.7,684.4C1268.2,683.8 1268.7,683.9 1269.3,684.4C1269.8,684.9 1270.4,685.9 1270.9,687.1C1271.5,688.4 1272.1,690.3 1272.7,691.9C1273.3,693.5 1273.9,695.2 1274.5,696.7C1275.0,698.2 1275.6,700.0 1276.1,700.8C1276.6,701.6 1277.1,702.2 1277.5,701.5C1277.9,700.8 1278.2,697.9 1278.6,696.7C1278.9,695.6 1279.2,694.2 1279.5,694.6C1279.9,695.1 1280.2,697.3 1280.5,699.4C1280.8,701.6 1281.2,705.1 1281.6,707.6C1282.0,710.1 1282.3,713.2 1282.7,714.5C1283.1,715.7 1283.7,716.1 1284.0,715.2C1284.4,714.2 1284.7,710.9 1285.0,709.0C1285.3,707.1 1285.3,704.3 1285.7,703.5C1286.1,702.7 1286.8,703.6 1287.3,704.2C1287.9,704.8 1288.4,706.6 1289.0,707.0C1289.5,707.3 1290.1,707.8 1290.5,706.3C1290.8,704.8 1290.9,700.2 1291.2,698.1C1291.4,695.9 1291.6,693.5 1291.8,693.3C1292.1,693.1 1292.5,694.8 1292.8,696.7C1293.1,698.6 1293.3,703.4 1293.6,704.9C1293.9,706.4 1294.4,706.5 1294.7,705.6C1295.0,704.7 1295.2,701.1 1295.5,699.4C1295.9,697.7 1296.1,696.0 1296.6,695.3C1297.2,694.7 1298.0,695.0 1298.7,695.3C1299.4,695.7 1300.0,696.4 1300.7,697.4C1301.4,698.4 1302.1,700.1 1302.8,701.5C1303.5,702.9 1304.2,704.8 1304.8,705.6C1305.4,706.4 1306.0,707.1 1306.5,706.3C1306.9,705.5 1307.2,702.5 1307.6,700.8C1307.9,699.1 1308.2,696.7 1308.7,696.0C1309.1,695.3 1309.5,695.7 1310.0,696.7C1310.5,697.7 1311.1,700.1 1311.7,702.2C1312.3,704.2 1313.1,707.1 1313.7,709.0C1314.4,710.9 1314.9,712.9 1315.5,713.8C1316.1,714.7 1316.6,715.3 1317.1,714.5C1317.6,713.7 1318.0,711.7 1318.5,709.0C1319.0,706.3 1319.4,700.8 1319.9,698.1C1320.3,695.3 1320.8,693.2 1321.2,692.6C1321.7,692.0 1322.1,693.1 1322.6,694.6C1323.1,696.2 1323.5,699.3 1324.0,702.2C1324.5,705.0 1325.0,709.3 1325.6,711.7C1326.2,714.1 1326.9,716.1 1327.4,716.5C1327.9,717.0 1328.3,716.2 1328.8,714.5C1329.2,712.8 1329.6,709.2 1330.1,706.3C1330.6,703.3 1331.3,698.9 1331.9,696.7C1332.5,694.5 1333.0,693.6 1333.5,693.3C1334.1,692.9 1334.6,693.6 1335.2,694.6C1335.8,695.7 1336.3,697.5 1337.0,699.4C1337.6,701.4 1338.3,704.0 1339.0,706.3C1339.7,708.5 1340.4,710.8 1341.1,713.1C1341.7,715.4 1342.4,718.4 1343.1,720.0C1343.8,721.5 1344.5,722.3 1345.2,722.7C1345.8,723.0 1346.6,722.9 1347.2,722.0C1347.8,721.1 1348.1,719.6 1348.6,717.2C1349.1,714.8 1349.7,710.5 1350.2,707.6C1350.8,704.8 1351.4,701.7 1352.0,700.1C1352.6,698.5 1353.2,698.0 1353.8,698.1C1354.3,698.2 1354.8,699.2 1355.4,700.8C1356.0,702.4 1356.8,705.4 1357.5,707.6C1358.1,709.9 1358.8,712.3 1359.5,714.5C1360.2,716.6 1360.9,719.4 1361.6,720.6C1362.3,721.9 1363.0,722.3 1363.6,722.0C1364.2,721.7 1364.7,720.5 1365.3,718.6C1365.8,716.6 1366.4,713.0 1367.0,710.4C1367.6,707.8 1368.3,704.3 1368.8,702.9C1369.3,701.4 1369.7,700.9 1370.2,701.5C1370.6,702.1 1371.0,704.3 1371.5,706.3C1372.0,708.2 1372.6,711.1 1373.2,713.1C1373.7,715.2 1374.3,717.6 1374.8,718.6C1375.3,719.6 1375.8,720.2 1376.2,719.3C1376.6,718.3 1376.9,715.2 1377.3,713.1C1377.7,711.1 1378.0,707.8 1378.4,707.0C1378.8,706.2 1379.2,707.6 1379.8,708.3C1380.3,709.0 1380.8,710.3 1381.4,711.1C1382.0,711.9 1383.1,712.8 1383.4,713.1" fill="none" stroke="#4873ba" stroke-width="4.1" stroke-linejoin="round" stroke-linecap="round"/>
<line x1="281" y1="722.5" x2="281" y2="772" stroke="#231f20" stroke-width="1.6" />
<line x1="459" y1="722.5" x2="459" y2="772" stroke="#231f20" stroke-width="1.6" />
<line x1="635" y1="722.5" x2="635" y2="772" stroke="#231f20" stroke-width="1.6" />
<line x1="774.2" y1="722.5" x2="774.2" y2="772" stroke="#231f20" stroke-width="1.6" />
<text transform="translate(354.00,749) scale(0.9981,1)" font-size="25" fill="#231f20">N1</text>
<text transform="translate(514.47,749) scale(1.0153,1)" font-size="25" fill="#231f20">N2</text>
<text transform="translate(686.43,749) scale(1.0326,1)" font-size="25" fill="#231f20">N3</text>
<defs><linearGradient id="strip" x1="0" y1="0" x2="1" y2="0"><stop offset="0.0000" stop-color="rgb(247,247,247)"/><stop offset="0.0042" stop-color="rgb(249,249,249)"/><stop offset="0.0083" stop-color="rgb(253,253,253)"/><stop offset="0.0125" stop-color="rgb(252,252,252)"/><stop offset="0.0167" stop-color="rgb(250,250,250)"/><stop offset="0.0208" stop-color="rgb(250,250,250)"/><stop offset="0.0250" stop-color="rgb(247,247,247)"/><stop offset="0.0292" stop-color="rgb(249,249,249)"/><stop offset="0.0333" stop-color="rgb(249,249,249)"/><stop offset="0.0375" stop-color="rgb(242,242,242)"/><stop offset="0.0417" stop-color="rgb(245,245,245)"/><stop offset="0.0458" stop-color="rgb(242,242,242)"/><stop offset="0.0500" stop-color="rgb(242,242,242)"/><stop offset="0.0542" stop-color="rgb(241,241,241)"/><stop offset="0.0583" stop-color="rgb(214,214,214)"/><stop offset="0.0625" stop-color="rgb(169,169,169)"/><stop offset="0.0667" stop-color="rgb(127,127,127)"/><stop offset="0.0708" stop-color="rgb(108,108,108)"/><stop offset="0.0750" stop-color="rgb(127,127,127)"/><stop offset="0.0792" stop-color="rgb(144,144,144)"/><stop offset="0.0833" stop-color="rgb(143,143,143)"/><stop offset="0.0875" stop-color="rgb(122,122,122)"/><stop offset="0.0917" stop-color="rgb(136,136,136)"/><stop offset="0.0958" stop-color="rgb(177,177,177)"/><stop offset="0.1000" stop-color="rgb(218,218,218)"/><stop offset="0.1042" stop-color="rgb(225,225,225)"/><stop offset="0.1083" stop-color="rgb(213,213,213)"/><stop offset="0.1125" stop-color="rgb(202,202,202)"/><stop offset="0.1167" stop-color="rgb(211,211,211)"/><stop offset="0.1208" stop-color="rgb(225,225,225)"/><stop offset="0.1250" stop-color="rgb(216,216,216)"/><stop offset="0.1292" stop-color="rgb(196,196,196)"/><stop offset="0.1333" stop-color="rgb(173,173,173)"/><stop offset="0.1375" stop-color="rgb(142,142,142)"/><stop offset="0.1417" stop-color="rgb(129,129,129)"/><stop offset="0.1458" stop-color="rgb(147,147,147)"/><stop offset="0.1500" stop-color="rgb(199,199,199)"/><stop offset="0.1542" stop-color="rgb(235,235,235)"/><stop offset="0.1583" stop-color="rgb(242,242,242)"/><stop offset="0.1625" stop-color="rgb(243,243,243)"/><stop offset="0.1667" stop-color="rgb(238,238,238)"/><stop offset="0.1708" stop-color="rgb(229,229,229)"/><stop offset="0.1750" stop-color="rgb(214,214,214)"/><stop offset="0.1792" stop-color="rgb(201,201,201)"/><stop offset="0.1833" stop-color="rgb(212,212,212)"/><stop offset="0.1875" stop-color="rgb(182,182,182)"/><stop offset="0.1917" stop-color="rgb(169,169,169)"/><stop offset="0.1958" stop-color="rgb(207,207,207)"/><stop offset="0.2000" stop-color="rgb(223,223,223)"/><stop offset="0.2042" stop-color="rgb(199,199,199)"/><stop offset="0.2083" stop-color="rgb(153,153,153)"/><stop offset="0.2125" stop-color="rgb(160,160,160)"/><stop offset="0.2167" stop-color="rgb(135,135,135)"/><stop offset="0.2208" stop-color="rgb(91,91,91)"/><stop offset="0.2250" stop-color="rgb(101,101,101)"/><stop offset="0.2292" stop-color="rgb(117,117,117)"/><stop offset="0.2333" stop-color="rgb(112,112,112)"/><stop offset="0.2375" stop-color="rgb(112,112,112)"/><stop offset="0.2417" stop-color="rgb(123,123,123)"/><stop offset="0.2458" stop-color="rgb(124,124,124)"/><stop offset="0.2500" stop-color="rgb(119,119,119)"/><stop offset="0.2542" stop-color="rgb(144,144,144)"/><stop offset="0.2583" stop-color="rgb(169,169,169)"/><stop offset="0.2625" stop-color="rgb(175,175,175)"/><stop offset="0.2667" stop-color="rgb(178,178,178)"/><stop offset="0.2708" stop-color="rgb(177,177,177)"/><stop offset="0.2750" stop-color="rgb(169,169,169)"/><stop offset="0.2792" stop-color="rgb(161,161,161)"/><stop offset="0.2833" stop-color="rgb(165,165,165)"/><stop offset="0.2875" stop-color="rgb(160,160,160)"/><stop offset="0.2917" stop-color="rgb(141,141,141)"/><stop offset="0.2958" stop-color="rgb(133,133,133)"/><stop offset="0.3000" stop-color="rgb(147,147,147)"/><stop offset="0.3042" stop-color="rgb(151,151,151)"/><stop offset="0.3083" stop-color="rgb(169,169,169)"/><stop offset="0.3125" stop-color="rgb(177,177,177)"/><stop offset="0.3167" stop-color="rgb(170,170,170)"/><stop offset="0.3208" stop-color="rgb(177,177,177)"/><stop offset="0.3250" stop-color="rgb(160,160,160)"/><stop offset="0.3292" stop-color="rgb(146,146,146)"/><stop offset="0.3333" stop-color="rgb(161,161,161)"/><stop offset="0.3375" stop-color="rgb(165,165,165)"/><stop offset="0.3417" stop-color="rgb(166,166,166)"/><stop offset="0.3458" stop-color="rgb(162,162,162)"/><stop offset="0.3500" stop-color="rgb(128,128,128)"/><stop offset="0.3542" stop-color="rgb(130,130,130)"/><stop offset="0.3583" stop-color="rgb(121,121,121)"/><stop offset="0.3625" stop-color="rgb(84,84,84)"/><stop offset="0.3667" stop-color="rgb(75,75,75)"/><stop offset="0.3708" stop-color="rgb(57,57,57)"/><stop offset="0.3750" stop-color="rgb(87,87,87)"/><stop offset="0.3792" stop-color="rgb(91,91,91)"/><stop offset="0.3833" stop-color="rgb(108,108,108)"/><stop offset="0.3875" stop-color="rgb(148,148,148)"/><stop offset="0.3917" stop-color="rgb(150,150,150)"/><stop offset="0.3958" stop-color="rgb(137,137,137)"/><stop offset="0.4000" stop-color="rgb(142,142,142)"/><stop offset="0.4042" stop-color="rgb(106,106,106)"/><stop offset="0.4083" stop-color="rgb(76,76,76)"/><stop offset="0.4125" stop-color="rgb(76,76,76)"/><stop offset="0.4167" stop-color="rgb(84,84,84)"/><stop offset="0.4208" stop-color="rgb(123,123,123)"/><stop offset="0.4250" stop-color="rgb(153,153,153)"/><stop offset="0.4292" stop-color="rgb(144,144,144)"/><stop offset="0.4333" stop-color="rgb(122,122,122)"/><stop offset="0.4375" stop-color="rgb(113,113,113)"/><stop offset="0.4417" stop-color="rgb(111,111,111)"/><stop offset="0.4458" stop-color="rgb(120,120,120)"/><stop offset="0.4500" stop-color="rgb(135,135,135)"/><stop offset="0.4542" stop-color="rgb(138,138,138)"/><stop offset="0.4583" stop-color="rgb(125,125,125)"/><stop offset="0.4625" stop-color="rgb(124,124,124)"/><stop offset="0.4667" stop-color="rgb(114,114,114)"/><stop offset="0.4708" stop-color="rgb(99,99,99)"/><stop offset="0.4750" stop-color="rgb(75,75,75)"/><stop offset="0.4792" stop-color="rgb(81,81,81)"/><stop offset="0.4833" stop-color="rgb(58,58,58)"/><stop offset="0.4875" stop-color="rgb(43,43,43)"/><stop offset="0.4917" stop-color="rgb(43,43,43)"/><stop offset="0.4958" stop-color="rgb(63,63,63)"/><stop offset="0.5000" stop-color="rgb(76,76,76)"/><stop offset="0.5042" stop-color="rgb(58,58,58)"/><stop offset="0.5083" stop-color="rgb(40,40,40)"/><stop offset="0.5125" stop-color="rgb(74,74,74)"/><stop offset="0.5167" stop-color="rgb(115,115,115)"/><stop offset="0.5208" stop-color="rgb(121,121,121)"/><stop offset="0.5250" stop-color="rgb(129,129,129)"/><stop offset="0.5292" stop-color="rgb(74,74,74)"/><stop offset="0.5333" stop-color="rgb(40,40,40)"/><stop offset="0.5375" stop-color="rgb(49,49,49)"/><stop offset="0.5417" stop-color="rgb(60,60,60)"/><stop offset="0.5458" stop-color="rgb(75,75,75)"/><stop offset="0.5500" stop-color="rgb(88,88,88)"/><stop offset="0.5542" stop-color="rgb(73,73,73)"/><stop offset="0.5583" stop-color="rgb(61,61,61)"/><stop offset="0.5625" stop-color="rgb(70,70,70)"/><stop offset="0.5667" stop-color="rgb(55,55,55)"/><stop offset="0.5708" stop-color="rgb(44,44,44)"/><stop offset="0.5750" stop-color="rgb(57,57,57)"/><stop offset="0.5792" stop-color="rgb(63,63,63)"/><stop offset="0.5833" stop-color="rgb(62,62,62)"/><stop offset="0.5875" stop-color="rgb(66,66,66)"/><stop offset="0.5917" stop-color="rgb(82,82,82)"/><stop offset="0.5958" stop-color="rgb(88,88,88)"/><stop offset="0.6000" stop-color="rgb(79,79,79)"/><stop offset="0.6042" stop-color="rgb(59,59,59)"/><stop offset="0.6083" stop-color="rgb(40,40,40)"/><stop offset="0.6125" stop-color="rgb(40,40,40)"/><stop offset="0.6167" stop-color="rgb(46,46,46)"/><stop offset="0.6208" stop-color="rgb(59,59,59)"/><stop offset="0.6250" stop-color="rgb(64,64,64)"/><stop offset="0.6292" stop-color="rgb(67,67,67)"/><stop offset="0.6333" stop-color="rgb(59,59,59)"/><stop offset="0.6375" stop-color="rgb(54,54,54)"/><stop offset="0.6417" stop-color="rgb(56,56,56)"/><stop offset="0.6458" stop-color="rgb(61,61,61)"/><stop offset="0.6500" stop-color="rgb(49,49,49)"/><stop offset="0.6542" stop-color="rgb(52,52,52)"/><stop offset="0.6583" stop-color="rgb(67,67,67)"/><stop offset="0.6625" stop-color="rgb(69,69,69)"/><stop offset="0.6667" stop-color="rgb(67,67,67)"/><stop offset="0.6708" stop-color="rgb(50,50,50)"/><stop offset="0.6750" stop-color="rgb(50,50,50)"/><stop offset="0.6792" stop-color="rgb(42,42,42)"/><stop offset="0.6833" stop-color="rgb(42,42,42)"/><stop offset="0.6875" stop-color="rgb(40,40,40)"/><stop offset="0.6917" stop-color="rgb(40,40,40)"/><stop offset="0.6958" stop-color="rgb(41,41,41)"/><stop offset="0.7000" stop-color="rgb(47,47,47)"/><stop offset="0.7042" stop-color="rgb(47,47,47)"/><stop offset="0.7083" stop-color="rgb(51,51,51)"/><stop offset="0.7125" stop-color="rgb(69,69,69)"/><stop offset="0.7167" stop-color="rgb(85,85,85)"/><stop offset="0.7208" stop-color="rgb(90,90,90)"/><stop offset="0.7250" stop-color="rgb(86,86,86)"/><stop offset="0.7292" stop-color="rgb(72,72,72)"/><stop offset="0.7333" stop-color="rgb(68,68,68)"/><stop offset="0.7375" stop-color="rgb(61,61,61)"/><stop offset="0.7417" stop-color="rgb(61,61,61)"/><stop offset="0.7458" stop-color="rgb(61,61,61)"/><stop offset="0.7500" stop-color="rgb(60,60,60)"/><stop offset="0.7542" stop-color="rgb(62,62,62)"/><stop offset="0.7583" stop-color="rgb(67,67,67)"/><stop offset="0.7625" stop-color="rgb(67,67,67)"/><stop offset="0.7667" stop-color="rgb(63,63,63)"/><stop offset="0.7708" stop-color="rgb(63,63,63)"/><stop offset="0.7750" stop-color="rgb(60,60,60)"/><stop offset="0.7792" stop-color="rgb(57,57,57)"/><stop offset="0.7833" stop-color="rgb(53,53,53)"/><stop offset="0.7875" stop-color="rgb(50,50,50)"/><stop offset="0.7917" stop-color="rgb(48,48,48)"/><stop offset="0.7958" stop-color="rgb(52,52,52)"/><stop offset="0.8000" stop-color="rgb(40,40,40)"/><stop offset="0.8042" stop-color="rgb(41,41,41)"/><stop offset="0.8083" stop-color="rgb(43,43,43)"/><stop offset="0.8125" stop-color="rgb(40,40,40)"/><stop offset="0.8167" stop-color="rgb(40,40,40)"/><stop offset="0.8208" stop-color="rgb(48,48,48)"/><stop offset="0.8250" stop-color="rgb(47,47,47)"/><stop offset="0.8292" stop-color="rgb(58,58,58)"/><stop offset="0.8333" stop-color="rgb(61,61,61)"/><stop offset="0.8375" stop-color="rgb(53,53,53)"/><stop offset="0.8417" stop-color="rgb(53,53,53)"/><stop offset="0.8458" stop-color="rgb(66,66,66)"/><stop offset="0.8500" stop-color="rgb(56,56,56)"/><stop offset="0.8542" stop-color="rgb(53,53,53)"/><stop offset="0.8583" stop-color="rgb(41,41,41)"/><stop offset="0.8625" stop-color="rgb(54,54,54)"/><stop offset="0.8667" stop-color="rgb(66,66,66)"/><stop offset="0.8708" stop-color="rgb(81,81,81)"/><stop offset="0.8750" stop-color="rgb(77,77,77)"/><stop offset="0.8792" stop-color="rgb(72,72,72)"/><stop offset="0.8833" stop-color="rgb(80,80,80)"/><stop offset="0.8875" stop-color="rgb(88,88,88)"/><stop offset="0.8917" stop-color="rgb(73,73,73)"/><stop offset="0.8958" stop-color="rgb(67,67,67)"/><stop offset="0.9000" stop-color="rgb(75,75,75)"/><stop offset="0.9042" stop-color="rgb(66,66,66)"/><stop offset="0.9083" stop-color="rgb(61,61,61)"/><stop offset="0.9125" stop-color="rgb(53,53,53)"/><stop offset="0.9167" stop-color="rgb(59,59,59)"/><stop offset="0.9208" stop-color="rgb(62,62,62)"/><stop offset="0.9250" stop-color="rgb(65,65,65)"/><stop offset="0.9292" stop-color="rgb(59,59,59)"/><stop offset="0.9333" stop-color="rgb(61,61,61)"/><stop offset="0.9375" stop-color="rgb(53,53,53)"/><stop offset="0.9417" stop-color="rgb(57,57,57)"/><stop offset="0.9458" stop-color="rgb(59,59,59)"/><stop offset="0.9500" stop-color="rgb(52,52,52)"/><stop offset="0.9542" stop-color="rgb(65,65,65)"/><stop offset="0.9583" stop-color="rgb(56,56,56)"/><stop offset="0.9625" stop-color="rgb(42,42,42)"/><stop offset="0.9667" stop-color="rgb(47,47,47)"/><stop offset="0.9708" stop-color="rgb(60,60,60)"/><stop offset="0.9750" stop-color="rgb(50,50,50)"/><stop offset="0.9792" stop-color="rgb(42,42,42)"/><stop offset="0.9833" stop-color="rgb(54,54,54)"/><stop offset="0.9875" stop-color="rgb(49,49,49)"/><stop offset="0.9917" stop-color="rgb(49,49,49)"/><stop offset="0.9958" stop-color="rgb(49,49,49)"/><stop offset="1.0000" stop-color="rgb(48,48,48)"/></linearGradient></defs>
<rect x="193.5" y="771.5" width="1195.0" height="98" fill="url(#strip)"/>
<defs><filter id="grain" x="0" y="0" width="100%" height="100%"><feTurbulence type="fractalNoise" baseFrequency="0.35 0.025" numOctaves="2" seed="7" result="t"/><feColorMatrix in="t" type="matrix" values="0 0 0 0 0.3  0 0 0 0 0.3  0 0 0 0 0.3  1.6 0 0 0 -0.55"/></filter></defs>
<rect x="193.5" y="771.5" width="1195.0" height="98" fill="#808080" filter="url(#grain)" opacity="0.2"/>
<line x1="193.5" y1="772" x2="1388.5" y2="772" stroke="#333" stroke-width="1.2" />
<line x1="193.5" y1="869.3" x2="1388.5" y2="869.3" stroke="#222" stroke-width="1.6" />
<line x1="194.3" y1="771" x2="194.3" y2="877.3" stroke="#231f20" stroke-width="1.9" />
<line x1="182" y1="807.4" x2="194.3" y2="807.4" stroke="#231f20" stroke-width="1.9" />
<line x1="182" y1="869.5" x2="194.3" y2="869.5" stroke="#231f20" stroke-width="1.9" />
<text x="176.9" y="814.8" font-size="25" text-anchor="end" fill="#231f20" >–50</text>
<text x="176.9" y="868" font-size="25" text-anchor="end" fill="#231f20" >–100</text>
<text transform="translate(106.4,877.42) rotate(-90) scale(1.0115,1)" font-size="25" fill="#231f20">M00-02100</text>
<text transform="translate(24.19,904.8) scale(1.0058,1)" font-size="25" fill="#231f20">Pixel number</text>
<text transform="translate(193.30,904.8) scale(0.9769,1)" font-size="25" fill="#231f20">0</text>
<line x1="313.5" y1="869" x2="313.5" y2="877.5" stroke="#231f20" stroke-width="1.9" />
<text transform="translate(291.81,904.8) scale(0.9898,1)" font-size="25" fill="#231f20">200</text>
<line x1="432.70000000000005" y1="869" x2="432.70000000000005" y2="877.5" stroke="#231f20" stroke-width="1.9" />
<text transform="translate(412.40,904.8) scale(0.9410,1)" font-size="25" fill="#231f20">400</text>
<line x1="551.9000000000001" y1="869" x2="551.9000000000001" y2="877.5" stroke="#231f20" stroke-width="1.9" />
<text transform="translate(530.51,904.8) scale(0.9898,1)" font-size="25" fill="#231f20">600</text>
<line x1="671.1" y1="869" x2="671.1" y2="877.5" stroke="#231f20" stroke-width="1.9" />
<text transform="translate(650.23,904.8) scale(0.9747,1)" font-size="25" fill="#231f20">800</text>
<line x1="790.3" y1="869" x2="790.3" y2="877.5" stroke="#231f20" stroke-width="1.9" />
<text transform="translate(764.43,904.8) scale(0.9727,1)" font-size="25" fill="#231f20">1,000</text>
<line x1="909.5" y1="869" x2="909.5" y2="877.5" stroke="#231f20" stroke-width="1.9" />
<text transform="translate(883.03,904.8) scale(0.9727,1)" font-size="25" fill="#231f20">1,200</text>
<line x1="1028.7" y1="869" x2="1028.7" y2="877.5" stroke="#231f20" stroke-width="1.9" />
<text transform="translate(1002.12,904.8) scale(0.9826,1)" font-size="25" fill="#231f20">1,400</text>
<line x1="1147.9" y1="869" x2="1147.9" y2="877.5" stroke="#231f20" stroke-width="1.9" />
<text transform="translate(1122.32,904.8) scale(0.9809,1)" font-size="25" fill="#231f20">1,600</text>
<line x1="1267.1" y1="869" x2="1267.1" y2="877.5" stroke="#231f20" stroke-width="1.9" />
<text transform="translate(1240.92,904.8) scale(0.9826,1)" font-size="25" fill="#231f20">1,800</text>
<line x1="1386.3" y1="869" x2="1386.3" y2="877.5" stroke="#231f20" stroke-width="1.9" />
<text transform="translate(1349.40,904.8) scale(0.9991,1)" font-size="25" fill="#231f20">2,000</text>
<line x1="462" y1="870" x2="430" y2="928" stroke="#4a98d8" stroke-width="1.8" />
<line x1="707" y1="870" x2="662.5" y2="928" stroke="#4a98d8" stroke-width="1.8" />
<line x1="1187.9" y1="870" x2="1129.8" y2="928" stroke="#4a98d8" stroke-width="1.8" />
<line x1="1386.5" y1="870" x2="1271.2" y2="928" stroke="#4a98d8" stroke-width="1.8" />
<line x1="180.7" y1="928.5" x2="1368.5" y2="928.5" stroke="#231f20" stroke-width="2.0" />
<text transform="translate(54.50,968.4) scale(0.9751,1)" font-size="25" fill="#231f20">Time (Myr)</text>
<line x1="189.3" y1="928.5" x2="189.3" y2="938.8" stroke="#231f20" stroke-width="2.0" />
<text transform="translate(192.74,968.5) scale(0.9400,1)" font-size="25" fill="#231f20">0</text>
<line x1="306.42" y1="928.5" x2="306.42" y2="938.8" stroke="#231f20" stroke-width="2.0" />
<text transform="translate(287.51,968.5) scale(0.9400,1)" font-size="25" fill="#231f20">–0.1</text>
<line x1="423.54" y1="928.5" x2="423.54" y2="938.8" stroke="#231f20" stroke-width="2.0" />
<text transform="translate(404.80,968.5) scale(0.9528,1)" font-size="25" fill="#231f20">–0.2</text>
<line x1="540.6600000000001" y1="928.5" x2="540.6600000000001" y2="938.8" stroke="#231f20" stroke-width="2.0" />
<text transform="translate(522.50,968.5) scale(0.9717,1)" font-size="25" fill="#231f20">–0.3</text>
<line x1="657.78" y1="928.5" x2="657.78" y2="938.8" stroke="#231f20" stroke-width="2.0" />
<text transform="translate(639.39,968.5) scale(0.9400,1)" font-size="25" fill="#231f20">–0.4</text>
<line x1="774.9000000000001" y1="928.5" x2="774.9000000000001" y2="938.8" stroke="#231f20" stroke-width="2.0" />
<text transform="translate(756.30,968.5) scale(0.9717,1)" font-size="25" fill="#231f20">–0.5</text>
<line x1="892.02" y1="928.5" x2="892.02" y2="938.8" stroke="#231f20" stroke-width="2.0" />
<text transform="translate(873.90,968.5) scale(0.9717,1)" font-size="25" fill="#231f20">–0.6</text>
<line x1="1009.1400000000001" y1="928.5" x2="1009.1400000000001" y2="938.8" stroke="#231f20" stroke-width="2.0" />
<text transform="translate(991.00,968.5) scale(0.9507,1)" font-size="25" fill="#231f20">–0.7</text>
<line x1="1126.26" y1="928.5" x2="1126.26" y2="938.8" stroke="#231f20" stroke-width="2.0" />
<text transform="translate(1108.60,968.5) scale(0.9738,1)" font-size="25" fill="#231f20">–0.8</text>
<line x1="1243.3799999999999" y1="928.5" x2="1243.3799999999999" y2="938.8" stroke="#231f20" stroke-width="2.0" />
<text transform="translate(1225.70,968.5) scale(0.9738,1)" font-size="25" fill="#231f20">–0.9</text>
<line x1="1360.5" y1="928.5" x2="1360.5" y2="938.8" stroke="#231f20" stroke-width="2.0" />
<text transform="translate(1351.90,968.5) scale(0.9528,1)" font-size="25" fill="#231f20">–1.0</text>
<line x1="194" y1="1023.8" x2="1364.5" y2="1023.8" stroke="#c9cacc" stroke-width="1.8" />
<path d="M195.7,1243.3C196.8,1244.7 199.8,1249.0 202.3,1251.5C204.7,1254.1 207.4,1256.3 210.5,1258.7C213.5,1261.1 217.3,1263.6 220.7,1265.8C224.1,1268.1 227.8,1270.4 230.9,1272.0C234.0,1273.5 236.4,1274.3 239.1,1275.0C241.8,1275.8 244.6,1276.5 247.3,1276.3C250.0,1276.1 253.3,1275.3 255.5,1274.0C257.7,1272.8 258.6,1271.6 260.6,1268.9C262.6,1266.2 265.2,1261.8 267.8,1257.7C270.3,1253.6 273.2,1248.8 275.9,1244.4C278.7,1239.9 281.7,1234.5 284.1,1231.1C286.5,1227.6 288.2,1225.4 290.3,1223.5C292.3,1221.5 294.2,1220.3 296.4,1219.4C298.6,1218.4 301.4,1217.9 303.6,1217.8C305.8,1217.7 307.8,1217.9 309.7,1218.8C311.6,1219.6 312.9,1220.8 314.8,1222.9C316.7,1224.9 318.9,1228.3 321.0,1231.1C323.0,1233.8 325.1,1236.7 327.1,1239.2C329.1,1241.8 331.2,1244.4 333.2,1246.4C335.3,1248.4 337.3,1250.2 339.4,1251.5C341.4,1252.9 343.5,1253.9 345.5,1254.6C347.6,1255.3 349.6,1255.7 351.6,1255.6C353.7,1255.5 355.7,1255.0 357.8,1254.2C359.8,1253.4 361.9,1252.1 363.9,1250.9C366.0,1249.7 368.0,1248.0 370.1,1246.8C372.1,1245.6 374.2,1244.5 376.2,1243.7C378.3,1243.0 380.5,1242.5 382.4,1242.3C384.2,1242.1 385.8,1242.2 387.5,1242.7C389.2,1243.2 390.7,1243.7 392.6,1245.4C394.5,1247.0 396.5,1249.8 398.7,1252.5C400.9,1255.3 403.5,1258.7 405.9,1261.8C408.3,1264.8 410.7,1268.2 413.0,1271.0C415.4,1273.7 418.0,1276.3 420.2,1278.1C422.4,1279.9 424.5,1280.9 426.3,1281.6C428.2,1282.3 429.8,1282.4 431.5,1282.2C433.2,1282.0 434.7,1281.7 436.6,1280.2C438.4,1278.6 440.5,1276.1 442.7,1273.0C444.9,1269.9 447.3,1265.8 449.9,1261.8C452.4,1257.7 455.3,1252.5 458.1,1248.5C460.8,1244.4 463.5,1240.4 466.2,1237.2C469.0,1234.0 471.7,1231.2 474.4,1229.0C477.2,1226.9 479.3,1225.7 482.6,1224.3C485.9,1222.9 490.7,1221.7 494.3,1220.8C498.0,1220.0 501.1,1219.6 504.6,1219.2C508.0,1218.7 511.9,1218.3 514.8,1218.2C517.7,1218.0 519.7,1218.0 522.0,1218.4C524.2,1218.7 526.2,1219.3 528.1,1220.2C530.0,1221.1 531.3,1222.1 533.2,1223.9C535.1,1225.7 537.3,1228.2 539.3,1231.1C541.4,1234.0 543.4,1237.4 545.5,1241.3C547.5,1245.2 549.6,1250.0 551.6,1254.6C553.7,1259.2 555.7,1264.1 557.8,1268.9C559.8,1273.7 561.9,1278.6 563.9,1283.2C565.9,1287.8 568.2,1292.8 570.0,1296.5C571.9,1300.3 573.6,1303.5 575.1,1305.8C576.7,1308.0 577.9,1309.3 579.2,1310.2C580.6,1311.2 582.0,1311.5 583.3,1311.5C584.7,1311.4 586.1,1311.3 587.4,1309.8C588.8,1308.4 590.0,1306.1 591.5,1302.7C593.1,1299.3 594.9,1294.3 596.6,1289.4C598.3,1284.4 600.0,1279.0 601.8,1273.0C603.5,1267.0 605.2,1260.4 606.9,1253.6C608.6,1246.7 610.3,1239.2 612.0,1232.1C613.7,1224.9 615.2,1217.2 617.1,1210.6C619.0,1203.9 621.3,1197.6 623.2,1192.2C625.2,1186.7 626.9,1182.0 628.8,1177.9C630.6,1173.8 632.5,1170.2 634.3,1167.6C636.0,1165.0 637.7,1163.3 639.2,1162.1C640.7,1160.9 642.0,1160.6 643.3,1160.3C644.6,1159.9 645.5,1159.6 646.8,1159.8C648.0,1160.1 649.3,1160.2 650.9,1161.5C652.4,1162.8 654.1,1164.9 656.0,1167.6C657.9,1170.3 660.1,1174.1 662.1,1177.9C664.2,1181.6 666.2,1185.5 668.2,1190.1C670.3,1194.7 672.3,1200.2 674.4,1205.5C676.4,1210.8 678.5,1216.2 680.5,1221.8C682.6,1227.5 684.6,1233.4 686.7,1239.2C688.7,1245.0 690.8,1251.0 692.8,1256.6C694.9,1262.3 696.9,1267.7 699.0,1273.0C701.0,1278.3 703.0,1283.4 705.1,1288.3C707.1,1293.3 709.4,1298.6 711.2,1302.7C713.1,1306.8 714.6,1310.2 716.3,1312.9C718.0,1315.6 719.9,1317.8 721.5,1319.0C723.0,1320.3 724.2,1320.7 725.5,1320.5C726.9,1320.3 728.3,1320.0 729.6,1318.0C731.0,1316.1 732.4,1312.6 733.7,1308.8C735.1,1305.1 736.3,1301.1 737.8,1295.5C739.4,1289.9 741.2,1282.4 742.9,1275.0C744.6,1267.7 746.4,1259.5 748.1,1251.5C749.8,1243.5 751.5,1235.3 753.2,1227.0C754.9,1218.6 756.6,1209.4 758.3,1201.4C760.0,1193.4 761.7,1185.9 763.4,1178.9C765.1,1171.9 766.1,1167.5 768.5,1159.4C770.9,1151.4 775.5,1137.0 777.6,1130.8C779.8,1124.5 780.2,1124.3 781.4,1121.9C782.7,1119.4 784.0,1117.4 785.2,1116.0C786.5,1114.7 787.8,1114.0 789.0,1113.5C790.3,1113.0 791.6,1112.5 792.9,1113.0C794.1,1113.6 795.4,1114.9 796.7,1116.8C797.9,1118.7 799.2,1121.5 800.5,1124.4C801.7,1127.4 803.0,1130.6 804.3,1134.6C805.5,1138.6 806.8,1143.3 808.1,1148.5C809.3,1153.8 810.6,1160.0 811.9,1166.3C813.2,1172.7 814.4,1179.9 815.7,1186.6C817.0,1193.4 818.2,1200.2 819.5,1207.0C820.8,1213.7 822.1,1220.5 823.3,1227.3C824.6,1234.0 825.9,1241.0 827.1,1247.6C828.4,1254.1 829.7,1260.5 830.9,1266.6C832.2,1272.7 833.5,1278.7 834.7,1284.4C836.0,1290.1 837.3,1295.8 838.5,1300.9C839.8,1306.0 841.1,1310.6 842.4,1314.8C843.6,1319.1 844.9,1323.1 846.2,1326.3C847.4,1329.4 848.7,1331.9 850.0,1333.9C851.2,1335.9 852.5,1337.4 853.8,1338.5C855.0,1339.5 856.3,1340.2 857.6,1340.2C858.9,1340.3 860.1,1340.2 861.4,1339.0C862.7,1337.7 863.9,1335.4 865.2,1332.6C866.5,1329.9 867.8,1326.9 869.0,1322.5C870.3,1318.0 871.6,1311.7 872.8,1306.0C874.1,1300.2 875.4,1294.3 876.6,1288.2C877.9,1282.1 879.2,1275.5 880.4,1269.2C881.7,1262.8 883.0,1256.7 884.2,1250.1C885.5,1243.6 886.8,1236.6 888.1,1229.8C889.3,1223.0 890.6,1216.0 891.9,1209.5C893.1,1202.9 894.4,1196.8 895.7,1190.4C896.9,1184.1 898.2,1177.5 899.5,1171.4C900.7,1165.3 902.0,1159.3 903.3,1153.6C904.6,1147.9 905.8,1142.2 907.1,1137.1C908.4,1132.1 909.6,1127.2 910.9,1123.2C912.2,1119.1 913.5,1115.9 914.7,1113.0C916.0,1110.1 917.3,1107.7 918.5,1105.9C919.8,1104.1 921.1,1103.0 922.3,1102.1C923.6,1101.2 924.9,1100.8 926.1,1100.3C927.4,1099.8 928.7,1099.5 930.0,1099.3C931.2,1099.1 932.5,1098.9 933.8,1099.3C935.0,1099.7 936.3,1100.1 937.6,1101.6C938.8,1103.0 940.1,1105.2 941.4,1107.9C942.6,1110.7 943.9,1114.1 945.2,1118.1C946.4,1122.1 947.7,1127.0 949.0,1132.0C950.3,1137.1 951.5,1142.6 952.8,1148.5C954.1,1154.5 955.3,1160.8 956.6,1167.6C957.9,1174.4 959.1,1182.0 960.4,1189.2C961.7,1196.4 963.0,1203.6 964.2,1210.8C965.5,1217.9 966.8,1224.9 968.0,1232.3C969.3,1239.7 970.6,1247.6 971.8,1255.2C973.1,1262.8 974.4,1270.4 975.6,1278.0C976.9,1285.6 978.2,1293.3 979.5,1300.9C980.7,1308.5 982.0,1316.5 983.3,1323.7C984.5,1330.9 985.8,1337.7 987.1,1344.0C988.4,1350.4 989.8,1357.2 990.9,1361.8C991.9,1366.5 992.6,1369.8 993.4,1372.0C994.3,1374.2 995.1,1374.4 996.0,1375.0C996.8,1375.7 997.7,1376.1 998.5,1375.8C999.3,1375.5 1000.2,1374.9 1001.0,1373.2C1001.9,1371.5 1002.5,1369.7 1003.6,1365.6C1004.6,1361.6 1006.1,1355.5 1007.4,1349.1C1008.7,1342.8 1009.9,1335.2 1011.2,1327.5C1012.5,1319.9 1013.7,1311.7 1015.0,1303.4C1016.3,1295.2 1017.5,1286.5 1018.8,1278.0C1020.1,1269.6 1021.4,1261.1 1022.6,1252.7C1023.9,1244.2 1025.2,1235.7 1026.4,1227.3C1027.7,1218.8 1029.0,1209.9 1030.2,1201.9C1031.5,1193.8 1032.8,1186.2 1034.0,1179.0C1035.3,1171.8 1036.6,1164.8 1037.8,1158.7C1039.1,1152.6 1040.4,1147.3 1041.7,1142.2C1042.9,1137.1 1044.2,1132.3 1045.5,1128.2C1046.7,1124.2 1048.0,1120.8 1049.3,1118.1C1050.5,1115.3 1051.8,1113.4 1053.1,1111.7C1054.4,1110.0 1055.4,1108.9 1056.9,1107.9C1058.4,1107.0 1060.3,1106.6 1062.0,1106.2C1063.7,1105.7 1065.7,1105.5 1067.0,1105.4C1068.4,1105.3 1068.9,1105.2 1070.0,1105.4C1071.1,1105.6 1072.5,1105.4 1073.8,1106.7C1075.1,1107.9 1076.3,1110.3 1077.6,1113.0C1078.9,1115.8 1080.2,1119.6 1081.4,1123.2C1082.7,1126.8 1084.0,1130.6 1085.2,1134.6C1086.5,1138.6 1087.8,1142.4 1089.0,1147.3C1090.3,1152.1 1091.6,1158.1 1092.8,1163.8C1094.1,1169.5 1095.4,1175.2 1096.7,1181.6C1097.9,1187.9 1099.2,1194.9 1100.5,1201.9C1101.7,1208.9 1103.0,1216.3 1104.3,1223.5C1105.5,1230.6 1106.8,1237.6 1108.1,1245.0C1109.3,1252.4 1110.6,1260.5 1111.9,1267.9C1113.2,1275.3 1114.4,1282.3 1115.7,1289.5C1117.0,1296.7 1118.2,1304.1 1119.5,1311.0C1120.8,1318.0 1122.0,1324.8 1123.3,1331.3C1124.6,1337.9 1125.9,1344.5 1127.1,1350.4C1128.4,1356.3 1129.8,1362.2 1130.9,1366.9C1132.1,1371.6 1133.0,1375.4 1134.0,1378.3C1134.9,1381.3 1135.7,1383.3 1136.5,1384.7C1137.4,1386.1 1138.2,1386.5 1139.1,1386.7C1139.9,1386.9 1140.6,1387.5 1141.6,1385.9C1142.6,1384.3 1143.7,1381.1 1144.9,1377.0C1146.1,1373.0 1147.4,1367.7 1148.7,1361.8C1150.0,1355.9 1151.2,1348.7 1152.5,1341.5C1153.8,1334.3 1155.0,1326.7 1156.3,1318.7C1157.6,1310.6 1158.9,1301.9 1160.1,1293.3C1161.4,1284.6 1162.7,1275.5 1163.9,1266.6C1165.2,1257.7 1166.5,1248.8 1167.8,1240.0C1169.0,1231.1 1170.3,1222.2 1171.6,1213.3C1172.8,1204.4 1174.1,1195.1 1175.4,1186.6C1176.6,1178.2 1177.9,1170.1 1179.2,1162.5C1180.4,1154.9 1181.7,1147.5 1183.0,1140.9C1184.2,1134.4 1185.5,1128.2 1186.8,1123.2C1188.1,1118.1 1189.3,1113.9 1190.6,1110.5C1191.9,1107.0 1193.1,1104.5 1194.4,1102.3C1195.7,1100.2 1196.9,1098.9 1198.2,1097.8C1199.5,1096.7 1200.8,1096.2 1202.0,1095.7C1203.3,1095.3 1204.6,1095.0 1205.8,1095.2C1207.1,1095.5 1208.4,1095.8 1209.6,1097.3C1210.9,1098.7 1212.2,1101.5 1213.5,1104.1C1214.7,1106.7 1216.0,1109.6 1217.3,1113.0C1218.5,1116.4 1219.8,1120.4 1221.1,1124.4C1222.3,1128.5 1223.6,1132.5 1224.9,1137.1C1226.1,1141.8 1227.4,1147.1 1228.7,1152.4C1230.0,1157.6 1231.2,1162.9 1232.5,1168.9C1233.8,1174.8 1235.0,1181.6 1236.3,1187.9C1237.6,1194.2 1238.8,1200.6 1240.1,1207.0C1241.4,1213.3 1242.7,1219.6 1243.9,1226.0C1245.2,1232.3 1246.5,1238.7 1247.7,1245.0C1249.0,1251.4 1250.3,1257.7 1251.5,1264.1C1252.8,1270.4 1254.1,1277.0 1255.3,1283.1C1256.6,1289.2 1257.9,1295.0 1259.2,1300.9C1260.4,1306.8 1261.7,1313.2 1263.0,1318.7C1264.2,1324.2 1265.5,1329.2 1266.8,1333.9C1268.0,1338.5 1269.3,1343.0 1270.6,1346.6C1271.8,1350.2 1273.1,1353.1 1274.4,1355.5C1275.7,1357.8 1276.9,1359.5 1278.2,1360.5C1279.5,1361.6 1280.7,1362.2 1282.0,1361.8C1283.3,1361.4 1284.5,1360.3 1285.8,1358.0C1287.1,1355.7 1288.4,1351.9 1289.6,1347.8C1290.9,1343.8 1292.2,1339.4 1293.4,1333.9C1294.7,1328.4 1296.0,1321.6 1297.2,1314.8C1298.5,1308.1 1299.8,1300.7 1301.0,1293.3C1302.3,1285.9 1303.6,1278.2 1304.8,1270.4C1306.1,1262.6 1307.4,1254.6 1308.7,1246.3C1309.9,1238.0 1311.2,1229.2 1312.5,1220.9C1313.7,1212.7 1315.0,1204.8 1316.3,1196.8C1317.5,1188.8 1318.8,1180.3 1320.1,1172.7C1321.3,1165.1 1322.6,1157.9 1323.9,1151.1C1325.2,1144.3 1326.4,1137.8 1327.7,1132.0C1329.0,1126.3 1330.2,1121.3 1331.5,1116.8C1332.8,1112.4 1334.1,1108.6 1335.3,1105.4C1336.6,1102.2 1337.9,1099.7 1339.1,1097.8C1340.4,1095.9 1341.7,1094.8 1342.9,1094.0C1344.2,1093.1 1345.5,1092.9 1346.7,1092.7C1348.0,1092.5 1349.3,1092.1 1350.5,1092.7C1351.8,1093.3 1353.1,1094.4 1354.4,1096.5C1355.6,1098.6 1356.9,1102.2 1358.2,1105.4C1359.4,1108.6 1361.0,1113.0 1362.0,1115.5C1362.9,1118.1 1363.5,1119.8 1363.8,1120.6" fill="none" stroke="#ed7d31" stroke-width="4.8" stroke-linejoin="round" stroke-linecap="butt"/>
<path d="M195.7,1328.2C196.5,1329.8 198.6,1334.7 200.2,1337.5C201.8,1340.2 203.6,1342.7 205.3,1344.6C207.1,1346.5 209.0,1347.9 210.5,1348.7C211.9,1349.5 212.8,1350.1 214.2,1349.5C215.5,1349.0 217.2,1347.7 218.7,1345.7C220.1,1343.6 221.4,1341.0 222.7,1337.5C224.1,1333.9 225.5,1328.8 226.8,1324.2C228.2,1319.6 229.6,1314.1 230.9,1309.8C232.3,1305.6 233.5,1301.8 235.0,1298.6C236.6,1295.3 238.4,1292.3 240.1,1290.4C241.8,1288.5 243.7,1287.9 245.2,1287.3C246.8,1286.8 248.0,1286.6 249.3,1286.9C250.7,1287.3 251.9,1287.4 253.4,1289.4C255.0,1291.3 256.8,1294.5 258.6,1298.6C260.3,1302.7 262.0,1308.3 263.7,1313.9C265.4,1319.6 267.1,1326.4 268.8,1332.3C270.5,1338.3 272.2,1344.6 273.9,1349.7C275.6,1354.9 277.3,1359.6 279.0,1363.0C280.7,1366.5 282.6,1368.7 284.1,1370.2C285.7,1371.7 286.9,1372.0 288.2,1371.8C289.6,1371.7 290.9,1371.0 292.3,1369.2C293.7,1367.4 294.9,1364.9 296.4,1361.0C297.9,1357.1 299.8,1351.1 301.5,1345.7C303.2,1340.2 304.9,1333.9 306.6,1328.2C308.3,1322.6 310.0,1316.8 311.8,1311.9C313.5,1306.9 315.2,1302.2 316.9,1298.6C318.6,1295.0 320.3,1292.3 322.0,1290.4C323.7,1288.5 325.7,1287.9 327.1,1287.3C328.5,1286.8 329.1,1286.8 330.2,1286.9C331.2,1287.1 332.0,1287.1 333.2,1288.3C334.4,1289.6 335.8,1290.9 337.3,1294.5C338.9,1298.1 340.7,1303.9 342.4,1309.8C344.2,1315.8 345.9,1323.8 347.6,1330.3C349.3,1336.8 351.0,1343.4 352.7,1348.7C354.4,1354.0 356.1,1359.0 357.8,1362.0C359.5,1365.1 361.5,1366.2 362.9,1367.1C364.3,1368.1 364.8,1368.3 366.0,1367.8C367.2,1367.2 368.5,1366.2 370.1,1364.1C371.6,1361.9 373.5,1358.4 375.2,1354.9C376.9,1351.3 378.4,1347.0 380.3,1342.6C382.2,1338.1 384.4,1332.3 386.4,1328.2C388.5,1324.2 390.5,1320.7 392.6,1318.0C394.6,1315.3 396.7,1313.3 398.7,1311.9C400.8,1310.4 403.0,1309.7 404.9,1309.4C406.7,1309.2 408.3,1309.2 410.0,1310.2C411.7,1311.3 413.2,1313.0 415.1,1316.0C417.0,1319.0 419.2,1323.8 421.2,1328.2C423.3,1332.7 425.5,1338.7 427.4,1342.6C429.2,1346.5 430.8,1349.7 432.5,1351.8C434.2,1353.8 436.1,1354.4 437.6,1354.9C439.1,1355.3 440.3,1355.5 441.7,1354.5C443.1,1353.4 444.2,1351.4 445.8,1348.7C447.3,1346.1 449.2,1341.7 450.9,1338.5C452.6,1335.2 454.1,1331.9 456.0,1329.3C457.9,1326.7 460.1,1324.2 462.1,1322.7C464.2,1321.3 466.4,1320.9 468.3,1320.5C470.2,1320.1 471.7,1319.9 473.4,1320.5C475.1,1321.1 477.4,1323.4 478.5,1324.2C479.6,1324.9 478.9,1323.7 480.0,1325.2C481.1,1326.7 483.2,1330.1 485.1,1333.4C487.0,1336.6 489.2,1341.0 491.2,1344.6C493.3,1348.2 495.3,1352.0 497.4,1354.9C499.4,1357.8 501.7,1360.4 503.5,1362.0C505.4,1363.6 507.1,1364.4 508.6,1364.5C510.2,1364.6 511.4,1364.2 512.7,1362.6C514.1,1361.0 515.3,1358.4 516.8,1354.9C518.4,1351.3 520.2,1346.2 522.0,1341.6C523.7,1337.0 525.4,1331.5 527.1,1327.2C528.8,1323.0 530.5,1319.0 532.2,1316.0C533.9,1312.9 535.6,1310.4 537.3,1308.8C539.0,1307.3 540.9,1307.1 542.4,1306.8C543.9,1306.4 545.1,1306.1 546.5,1306.8C547.9,1307.5 549.1,1308.5 550.6,1310.9C552.1,1313.2 554.0,1317.2 555.7,1321.1C557.4,1325.0 559.1,1329.8 560.8,1334.4C562.5,1339.0 564.2,1343.9 565.9,1348.7C567.6,1353.5 569.4,1358.8 571.1,1363.0C572.8,1367.3 574.6,1371.5 576.2,1374.3C577.7,1377.1 579.1,1378.7 580.3,1379.8C581.5,1380.9 582.1,1381.3 583.3,1381.0C584.5,1380.8 586.1,1380.2 587.4,1378.4C588.8,1376.6 590.0,1373.8 591.5,1370.2C593.1,1366.6 594.9,1361.7 596.6,1356.9C598.3,1352.1 600.0,1346.5 601.8,1341.6C603.5,1336.6 605.2,1331.7 606.9,1327.2C608.6,1322.8 610.3,1318.4 612.0,1315.0C613.7,1311.5 615.4,1308.5 617.1,1306.8C618.8,1305.0 620.7,1304.7 622.2,1304.3C623.7,1303.9 624.9,1303.7 626.3,1304.3C627.7,1304.9 629.0,1305.5 630.4,1307.8C631.8,1310.1 633.0,1313.6 634.5,1318.0C636.0,1322.5 637.9,1328.8 639.6,1334.4C641.3,1340.0 643.0,1346.3 644.7,1351.8C646.4,1357.2 648.1,1362.9 649.8,1367.1C651.5,1371.4 653.4,1375.1 655.0,1377.4C656.5,1379.6 657.9,1379.8 659.0,1380.4C660.2,1381.0 661.1,1381.6 662.1,1381.0C663.1,1380.5 664.0,1379.5 665.2,1377.4C666.4,1375.2 667.7,1371.7 669.3,1368.2C670.8,1364.6 672.7,1360.0 674.4,1355.9C676.1,1351.8 677.8,1347.4 679.5,1343.6C681.2,1339.8 682.7,1336.6 684.6,1333.4C686.5,1330.1 688.7,1326.5 690.8,1324.2C692.8,1321.8 695.0,1320.1 696.9,1319.0C698.8,1318.0 700.5,1317.4 702.0,1317.6C703.6,1317.8 704.6,1318.8 706.1,1320.1C707.6,1321.3 709.5,1323.0 711.2,1325.2C712.9,1327.4 714.6,1329.8 716.3,1333.4C718.0,1336.9 719.8,1342.2 721.5,1346.7C723.2,1351.1 724.9,1355.9 726.6,1360.0C728.3,1364.1 730.2,1368.8 731.7,1371.2C733.2,1373.6 734.6,1373.8 735.8,1374.3C737.0,1374.8 737.7,1374.8 738.9,1374.3C740.0,1373.8 741.4,1373.1 742.9,1371.2C744.5,1369.4 746.4,1366.1 748.1,1363.0C749.8,1360.0 751.5,1355.5 753.2,1352.8C754.9,1350.1 756.4,1348.7 758.3,1346.7C760.2,1344.6 762.7,1341.8 764.4,1340.5C766.1,1339.2 767.6,1339.2 768.5,1338.9C769.4,1338.6 768.9,1339.0 770.0,1339.0C771.1,1338.9 773.4,1338.2 775.1,1338.5C776.8,1338.7 778.5,1339.5 780.2,1340.2C781.9,1341.0 783.8,1341.3 785.2,1342.8C786.7,1344.3 787.6,1346.6 789.0,1349.1C790.5,1351.7 792.4,1355.0 794.1,1358.0C795.8,1361.0 797.5,1364.2 799.2,1366.9C800.9,1369.7 802.8,1372.8 804.3,1374.5C805.8,1376.2 806.8,1376.5 808.1,1377.0C809.3,1377.6 810.4,1378.0 811.9,1377.6C813.4,1377.1 815.5,1376.3 817.0,1374.5C818.5,1372.7 819.5,1369.7 820.8,1366.9C822.0,1364.2 823.1,1361.2 824.6,1358.0C826.1,1354.8 828.0,1350.8 829.7,1347.8C831.4,1344.9 833.0,1342.2 834.7,1340.2C836.4,1338.3 838.3,1336.8 839.8,1335.9C841.3,1335.1 842.4,1334.9 843.6,1335.2C844.9,1335.5 846.0,1336.6 847.4,1337.7C848.9,1338.8 850.8,1339.4 852.5,1341.5C854.2,1343.6 855.9,1347.0 857.6,1350.4C859.3,1353.8 861.0,1358.0 862.7,1361.8C864.4,1365.6 866.1,1369.4 867.8,1373.2C869.4,1377.0 871.1,1381.3 872.8,1384.7C874.5,1388.1 876.2,1391.4 877.9,1393.6C879.6,1395.8 881.5,1396.9 883.0,1397.9C884.5,1398.8 885.5,1399.2 886.8,1399.1C888.1,1399.1 889.3,1398.9 890.6,1397.4C891.9,1395.8 893.1,1392.7 894.4,1389.8C895.7,1386.8 896.9,1383.4 898.2,1379.6C899.5,1375.8 900.8,1370.9 902.0,1366.9C903.3,1362.9 904.6,1359.1 905.8,1355.5C907.1,1351.9 908.4,1348.1 909.6,1345.3C910.9,1342.6 912.2,1340.7 913.5,1339.0C914.7,1337.3 916.0,1336.0 917.3,1335.2C918.5,1334.3 919.8,1334.2 921.1,1333.9C922.3,1333.6 923.6,1333.0 924.9,1333.4C926.1,1333.8 927.4,1334.4 928.7,1336.4C929.9,1338.4 931.0,1341.7 932.5,1345.3C934.0,1348.9 935.9,1353.1 937.6,1358.0C939.3,1362.9 941.0,1368.8 942.6,1374.5C944.3,1380.2 946.0,1386.8 947.7,1392.3C949.4,1397.8 951.1,1403.1 952.8,1407.5C954.5,1412.0 956.4,1416.2 957.9,1418.9C959.4,1421.7 960.6,1423.0 961.7,1424.0C962.7,1425.1 963.2,1425.5 964.2,1425.3C965.3,1425.1 966.8,1424.7 968.0,1422.8C969.3,1420.8 970.6,1417.5 971.8,1413.9C973.1,1410.3 974.4,1405.4 975.6,1401.2C976.9,1396.9 978.2,1392.7 979.5,1388.5C980.7,1384.2 982.0,1379.8 983.3,1375.8C984.5,1371.8 985.8,1367.7 987.1,1364.4C988.4,1361.0 989.6,1358.0 990.9,1355.5C992.2,1352.9 993.4,1350.6 994.7,1349.1C996.0,1347.6 997.2,1347.2 998.5,1346.6C999.8,1346.0 1001.0,1345.4 1002.3,1345.3C1003.6,1345.2 1004.9,1345.4 1006.1,1346.1C1007.4,1346.7 1008.7,1347.3 1009.9,1349.1C1011.2,1350.9 1012.5,1353.6 1013.7,1356.7C1015.0,1359.9 1016.3,1363.9 1017.5,1368.2C1018.8,1372.4 1020.1,1377.5 1021.4,1382.1C1022.6,1386.8 1023.9,1391.4 1025.2,1396.1C1026.4,1400.7 1027.7,1405.8 1029.0,1410.1C1030.2,1414.3 1031.5,1418.3 1032.8,1421.5C1034.0,1424.7 1035.5,1427.4 1036.6,1429.1C1037.6,1430.8 1038.3,1431.1 1039.1,1431.6C1040.0,1432.2 1040.7,1432.7 1041.7,1432.4C1042.6,1432.1 1043.7,1431.3 1044.7,1429.9C1045.8,1428.5 1046.8,1426.5 1048.0,1424.0C1049.2,1421.6 1050.3,1418.3 1051.8,1415.1C1053.3,1412.0 1055.2,1408.4 1056.9,1405.0C1058.6,1401.6 1060.3,1397.8 1062.0,1394.8C1063.7,1391.9 1065.1,1389.1 1067.0,1387.2C1069.0,1385.3 1072.0,1384.7 1073.8,1383.4C1075.6,1382.1 1076.3,1380.6 1077.6,1379.6C1078.9,1378.6 1080.2,1377.9 1081.4,1377.6C1082.7,1377.2 1084.0,1377.2 1085.2,1377.6C1086.5,1377.9 1087.8,1378.2 1089.0,1379.6C1090.3,1381.0 1091.6,1383.6 1092.8,1385.9C1094.1,1388.3 1095.4,1390.6 1096.7,1393.6C1097.9,1396.5 1099.2,1400.1 1100.5,1403.7C1101.7,1407.3 1103.0,1411.8 1104.3,1415.1C1105.5,1418.5 1106.8,1421.7 1108.1,1424.0C1109.3,1426.3 1110.6,1428.0 1111.9,1429.1C1113.2,1430.2 1114.4,1431.0 1115.7,1430.4C1117.0,1429.7 1118.2,1427.8 1119.5,1425.3C1120.8,1422.8 1122.0,1418.1 1123.3,1415.1C1124.6,1412.2 1125.9,1409.7 1127.1,1407.5C1128.4,1405.3 1129.7,1403.3 1130.9,1401.9C1132.2,1400.6 1133.5,1400.0 1134.7,1399.4C1136.0,1398.8 1137.3,1398.3 1138.5,1398.1C1139.8,1398.0 1141.1,1398.1 1142.4,1398.6C1143.6,1399.1 1144.7,1399.9 1146.2,1401.2C1147.7,1402.4 1149.3,1404.6 1151.2,1406.2C1153.2,1407.9 1155.5,1409.4 1157.6,1411.3C1159.7,1413.2 1161.8,1415.3 1163.9,1417.7C1166.1,1420.0 1168.4,1422.5 1170.3,1425.3C1172.2,1428.0 1173.9,1431.4 1175.4,1434.2C1176.8,1436.9 1177.9,1439.3 1179.2,1441.8C1180.4,1444.3 1181.8,1447.7 1183.0,1449.4C1184.2,1451.1 1185.2,1452.6 1186.3,1452.0C1187.3,1451.3 1188.2,1448.6 1189.3,1445.6C1190.5,1442.6 1191.9,1438.4 1193.1,1434.2C1194.4,1429.9 1195.7,1424.4 1197.0,1420.2C1198.2,1416.0 1199.5,1412.2 1200.8,1408.8C1202.0,1405.4 1203.3,1402.3 1204.6,1399.9C1205.8,1397.5 1207.1,1395.7 1208.4,1394.3C1209.6,1393.0 1210.7,1392.3 1212.2,1391.8C1213.7,1391.2 1215.8,1390.9 1217.3,1391.0C1218.7,1391.1 1219.8,1391.0 1221.1,1392.3C1222.3,1393.6 1223.6,1396.3 1224.9,1398.6C1226.1,1401.0 1227.4,1403.3 1228.7,1406.2C1230.0,1409.2 1231.2,1412.8 1232.5,1416.4C1233.8,1420.0 1235.0,1424.2 1236.3,1427.8C1237.6,1431.4 1238.8,1434.6 1240.1,1438.0C1241.4,1441.4 1242.8,1445.3 1243.9,1448.1C1245.1,1451.0 1245.9,1455.0 1247.0,1455.2C1248.0,1455.5 1249.1,1452.3 1250.3,1449.4C1251.4,1446.5 1252.6,1441.4 1254.1,1438.0C1255.6,1434.6 1257.5,1431.4 1259.2,1429.1C1260.8,1426.8 1262.3,1425.7 1264.2,1424.0C1266.1,1422.3 1268.5,1421.1 1270.6,1418.9C1272.7,1416.8 1274.8,1413.9 1276.9,1411.3C1279.0,1408.8 1281.4,1405.8 1283.3,1403.7C1285.2,1401.6 1286.7,1400.0 1288.3,1398.6C1290.0,1397.3 1291.7,1396.2 1293.4,1395.6C1295.1,1395.0 1297.0,1394.3 1298.5,1394.8C1300.0,1395.3 1301.0,1396.5 1302.3,1398.6C1303.6,1400.7 1304.8,1404.3 1306.1,1407.5C1307.4,1410.7 1308.7,1414.5 1309.9,1417.7C1311.2,1420.8 1312.5,1423.6 1313.7,1426.6C1315.0,1429.5 1316.3,1432.9 1317.5,1435.5C1318.8,1438.0 1320.3,1440.7 1321.3,1441.8C1322.4,1442.8 1323.0,1443.1 1323.9,1441.8C1324.8,1440.5 1325.9,1437.4 1326.9,1434.2C1328.0,1431.0 1329.1,1426.8 1330.2,1422.8C1331.4,1418.7 1332.8,1413.7 1334.0,1410.1C1335.3,1406.5 1336.6,1403.9 1337.8,1401.2C1339.1,1398.4 1340.4,1395.4 1341.7,1393.6C1342.9,1391.7 1344.2,1391.1 1345.5,1390.2C1346.7,1389.4 1348.0,1388.8 1349.3,1388.5C1350.5,1388.2 1351.8,1388.3 1353.1,1388.5C1354.4,1388.7 1355.6,1389.3 1356.9,1389.8C1358.2,1390.2 1359.6,1390.9 1360.7,1391.3C1361.9,1391.6 1363.2,1391.7 1363.8,1391.8" fill="none" stroke="#4873ba" stroke-width="4.8" stroke-linejoin="round" stroke-linecap="butt"/>
<line x1="197.5" y1="1166.8" x2="1359" y2="1166.8" stroke="#231f20" stroke-width="1.9" />
<line x1="198.5" y1="1310.1" x2="1359" y2="1310.1" stroke="#231f20" stroke-width="1.9" />
<line x1="199" y1="1238.2" x2="1359" y2="1238.2" stroke="#231f20" stroke-width="3.4" stroke-dasharray="4.3 4.1"/>
<line x1="194" y1="1022.8" x2="194" y2="1468.8" stroke="#231f20" stroke-width="2.1" />
<line x1="183.5" y1="1458.8" x2="1374" y2="1458.8" stroke="#231f20" stroke-width="2.1" />
<line x1="1364.5" y1="1022.8" x2="1364.5" y2="1468.8" stroke="#231f20" stroke-width="2.1" />
<line x1="183" y1="1023.7" x2="194" y2="1023.7" stroke="#231f20" stroke-width="1.9" />
<text x="180.2" y="1033.1" font-size="25" text-anchor="end" fill="#231f20" >40</text>
<line x1="183" y1="1096.23" x2="194" y2="1096.23" stroke="#231f20" stroke-width="1.9" />
<text x="180.2" y="1105.6" font-size="25" text-anchor="end" fill="#231f20" >35</text>
<line x1="183" y1="1168.76" x2="194" y2="1168.76" stroke="#231f20" stroke-width="1.9" />
<text x="180.2" y="1178.2" font-size="25" text-anchor="end" fill="#231f20" >30</text>
<line x1="183" y1="1241.29" x2="194" y2="1241.29" stroke="#231f20" stroke-width="1.9" />
<text x="180.2" y="1250.7" font-size="25" text-anchor="end" fill="#231f20" >25</text>
<line x1="183" y1="1313.8200000000002" x2="194" y2="1313.8200000000002" stroke="#231f20" stroke-width="1.9" />
<text x="180.2" y="1323.2" font-size="25" text-anchor="end" fill="#231f20" >20</text>
<line x1="183" y1="1386.35" x2="194" y2="1386.35" stroke="#231f20" stroke-width="1.9" />
<text x="180.2" y="1395.8" font-size="25" text-anchor="end" fill="#231f20" >15</text>
<line x1="183" y1="1458.88" x2="194" y2="1458.88" stroke="#231f20" stroke-width="1.9" />
<text x="180.2" y="1468.3" font-size="25" text-anchor="end" fill="#231f20" >10</text>
<line x1="1364.5" y1="1023.6" x2="1374" y2="1023.6" stroke="#231f20" stroke-width="1.9" />
<text x="1381.6" y="1038.2" font-size="25" text-anchor="start" fill="#231f20" >0.30</text>
<line x1="1364.5" y1="1096.15" x2="1374" y2="1096.15" stroke="#231f20" stroke-width="1.9" />
<text x="1381.6" y="1105.2" font-size="25" text-anchor="start" fill="#231f20" >0.25</text>
<line x1="1364.5" y1="1168.7" x2="1374" y2="1168.7" stroke="#231f20" stroke-width="1.9" />
<text x="1381.6" y="1177.8" font-size="25" text-anchor="start" fill="#231f20" >0.20</text>
<line x1="1364.5" y1="1241.25" x2="1374" y2="1241.25" stroke="#231f20" stroke-width="1.9" />
<text x="1381.6" y="1250.3" font-size="25" text-anchor="start" fill="#231f20" >0.15</text>
<line x1="1364.5" y1="1313.8" x2="1374" y2="1313.8" stroke="#231f20" stroke-width="1.9" />
<text x="1381.6" y="1322.9" font-size="25" text-anchor="start" fill="#231f20" >0.10</text>
<line x1="1364.5" y1="1386.35" x2="1374" y2="1386.35" stroke="#231f20" stroke-width="1.9" />
<text x="1381.6" y="1395.4" font-size="25" text-anchor="start" fill="#231f20" >0.05</text>
<line x1="1364.5" y1="1458.9" x2="1374" y2="1458.9" stroke="#231f20" stroke-width="1.9" />
<text x="1381.6" y="1468.0" font-size="25" text-anchor="start" fill="#231f20" >0</text>
<line x1="194.3" y1="1458.9" x2="194.3" y2="1468.8" stroke="#231f20" stroke-width="1.9" />
<text transform="translate(186.79,1495.3) scale(0.9400,1)" font-size="25" fill="#231f20">0</text>
<line x1="311.3" y1="1458.9" x2="311.3" y2="1468.8" stroke="#231f20" stroke-width="1.9" />
<text transform="translate(279.10,1495.3) scale(0.9675,1)" font-size="25" fill="#231f20">–0.1</text>
<line x1="428.3" y1="1458.9" x2="428.3" y2="1468.8" stroke="#231f20" stroke-width="1.9" />
<text transform="translate(396.50,1495.3) scale(0.9675,1)" font-size="25" fill="#231f20">–0.2</text>
<line x1="545.3" y1="1458.9" x2="545.3" y2="1468.8" stroke="#231f20" stroke-width="1.9" />
<text transform="translate(513.90,1495.3) scale(0.9675,1)" font-size="25" fill="#231f20">–0.3</text>
<line x1="662.3" y1="1458.9" x2="662.3" y2="1468.8" stroke="#231f20" stroke-width="1.9" />
<text transform="translate(631.30,1495.3) scale(0.9476,1)" font-size="25" fill="#231f20">–0.4</text>
<line x1="779.3" y1="1458.9" x2="779.3" y2="1468.8" stroke="#231f20" stroke-width="1.9" />
<text transform="translate(748.70,1495.3) scale(0.9675,1)" font-size="25" fill="#231f20">–0.5</text>
<line x1="896.3" y1="1458.9" x2="896.3" y2="1468.8" stroke="#231f20" stroke-width="1.9" />
<text transform="translate(866.10,1495.3) scale(0.9675,1)" font-size="25" fill="#231f20">–0.6</text>
<line x1="1013.3" y1="1458.9" x2="1013.3" y2="1468.8" stroke="#231f20" stroke-width="1.9" />
<text transform="translate(983.50,1495.3) scale(0.9675,1)" font-size="25" fill="#231f20">–0.7</text>
<line x1="1130.3" y1="1458.9" x2="1130.3" y2="1468.8" stroke="#231f20" stroke-width="1.9" />
<text transform="translate(1100.90,1495.3) scale(0.9675,1)" font-size="25" fill="#231f20">–0.8</text>
<line x1="1247.3" y1="1458.9" x2="1247.3" y2="1468.8" stroke="#231f20" stroke-width="1.9" />
<text transform="translate(1218.30,1495.3) scale(0.9675,1)" font-size="25" fill="#231f20">–0.9</text>
<line x1="1364.3" y1="1458.9" x2="1364.3" y2="1468.8" stroke="#231f20" stroke-width="1.9" />
<text transform="translate(1332.80,1495.3) scale(0.9738,1)" font-size="25" fill="#231f20">–1.0</text>
<text transform="translate(693.00,1530.5) scale(0.9810,1)" font-size="25" fill="#231f20">Time (Myr)</text>
<text transform="translate(135.5,1304.18) rotate(-90) scale(0.9834,1)" font-size="25" fill="#231f20">Obliquity (°)</text>
<text transform="translate(1460.6,1304.42) rotate(-90) scale(1.0086,1)" font-size="25" fill="#231f20">Eccentricity</text>
<text transform="translate(24.76,1075.7) scale(1.0207,1)" font-size="25" fill="#231f20">Large</text>
<text transform="translate(9.88,1102.5) scale(1.0228,1)" font-size="25" fill="#231f20">obliquity</text>
<text transform="translate(25.07,1128.1) scale(1.0327,1)" font-size="25" fill="#231f20">period</text>
<text transform="translate(-2.04,1221.6) scale(1.0203,1)" font-size="25" fill="#231f20">Moderate</text>
<text transform="translate(7.59,1247.7) scale(1.0140,1)" font-size="25" fill="#231f20">obliquity</text>
<text transform="translate(18.20,1273.2) scale(1.0045,1)" font-size="25" fill="#231f20">status</text>
<text transform="translate(23.19,1367) scale(1.0090,1)" font-size="25" fill="#231f20">Small</text>
<text transform="translate(2.88,1394.4) scale(1.0228,1)" font-size="25" fill="#231f20">obliquity</text>
<text transform="translate(18.47,1419.2) scale(1.0342,1)" font-size="25" fill="#231f20">period</text>
<text transform="translate(264.87,1063.3) scale(1.0126,1)" font-size="25" fill="#231f20">Dark longitudinal dune and its</text>
<text transform="translate(305.79,1092.8) scale(1.0142,1)" font-size="25" fill="#231f20">agglomerated surface</text>
<text transform="translate(818.36,1062.6) scale(1.0188,1)" font-size="25" fill="#231f20">Bright barchan and its crust surface</text>
<text transform="translate(36.3,18) scale(1.17,1)" font-size="31.5" font-weight="bold" fill="#231f20" stroke="#231f20" stroke-width="0.9">a</text>
<text transform="translate(36.3,434.2) scale(1.17,1)" font-size="31.5" font-weight="bold" fill="#231f20" stroke="#231f20" stroke-width="0.9">b</text>
<text transform="translate(36.8,1010.6) scale(1.17,1)" font-size="31.5" font-weight="bold" fill="#231f20" stroke="#231f20" stroke-width="0.9">c</text>
</svg></body></html>
